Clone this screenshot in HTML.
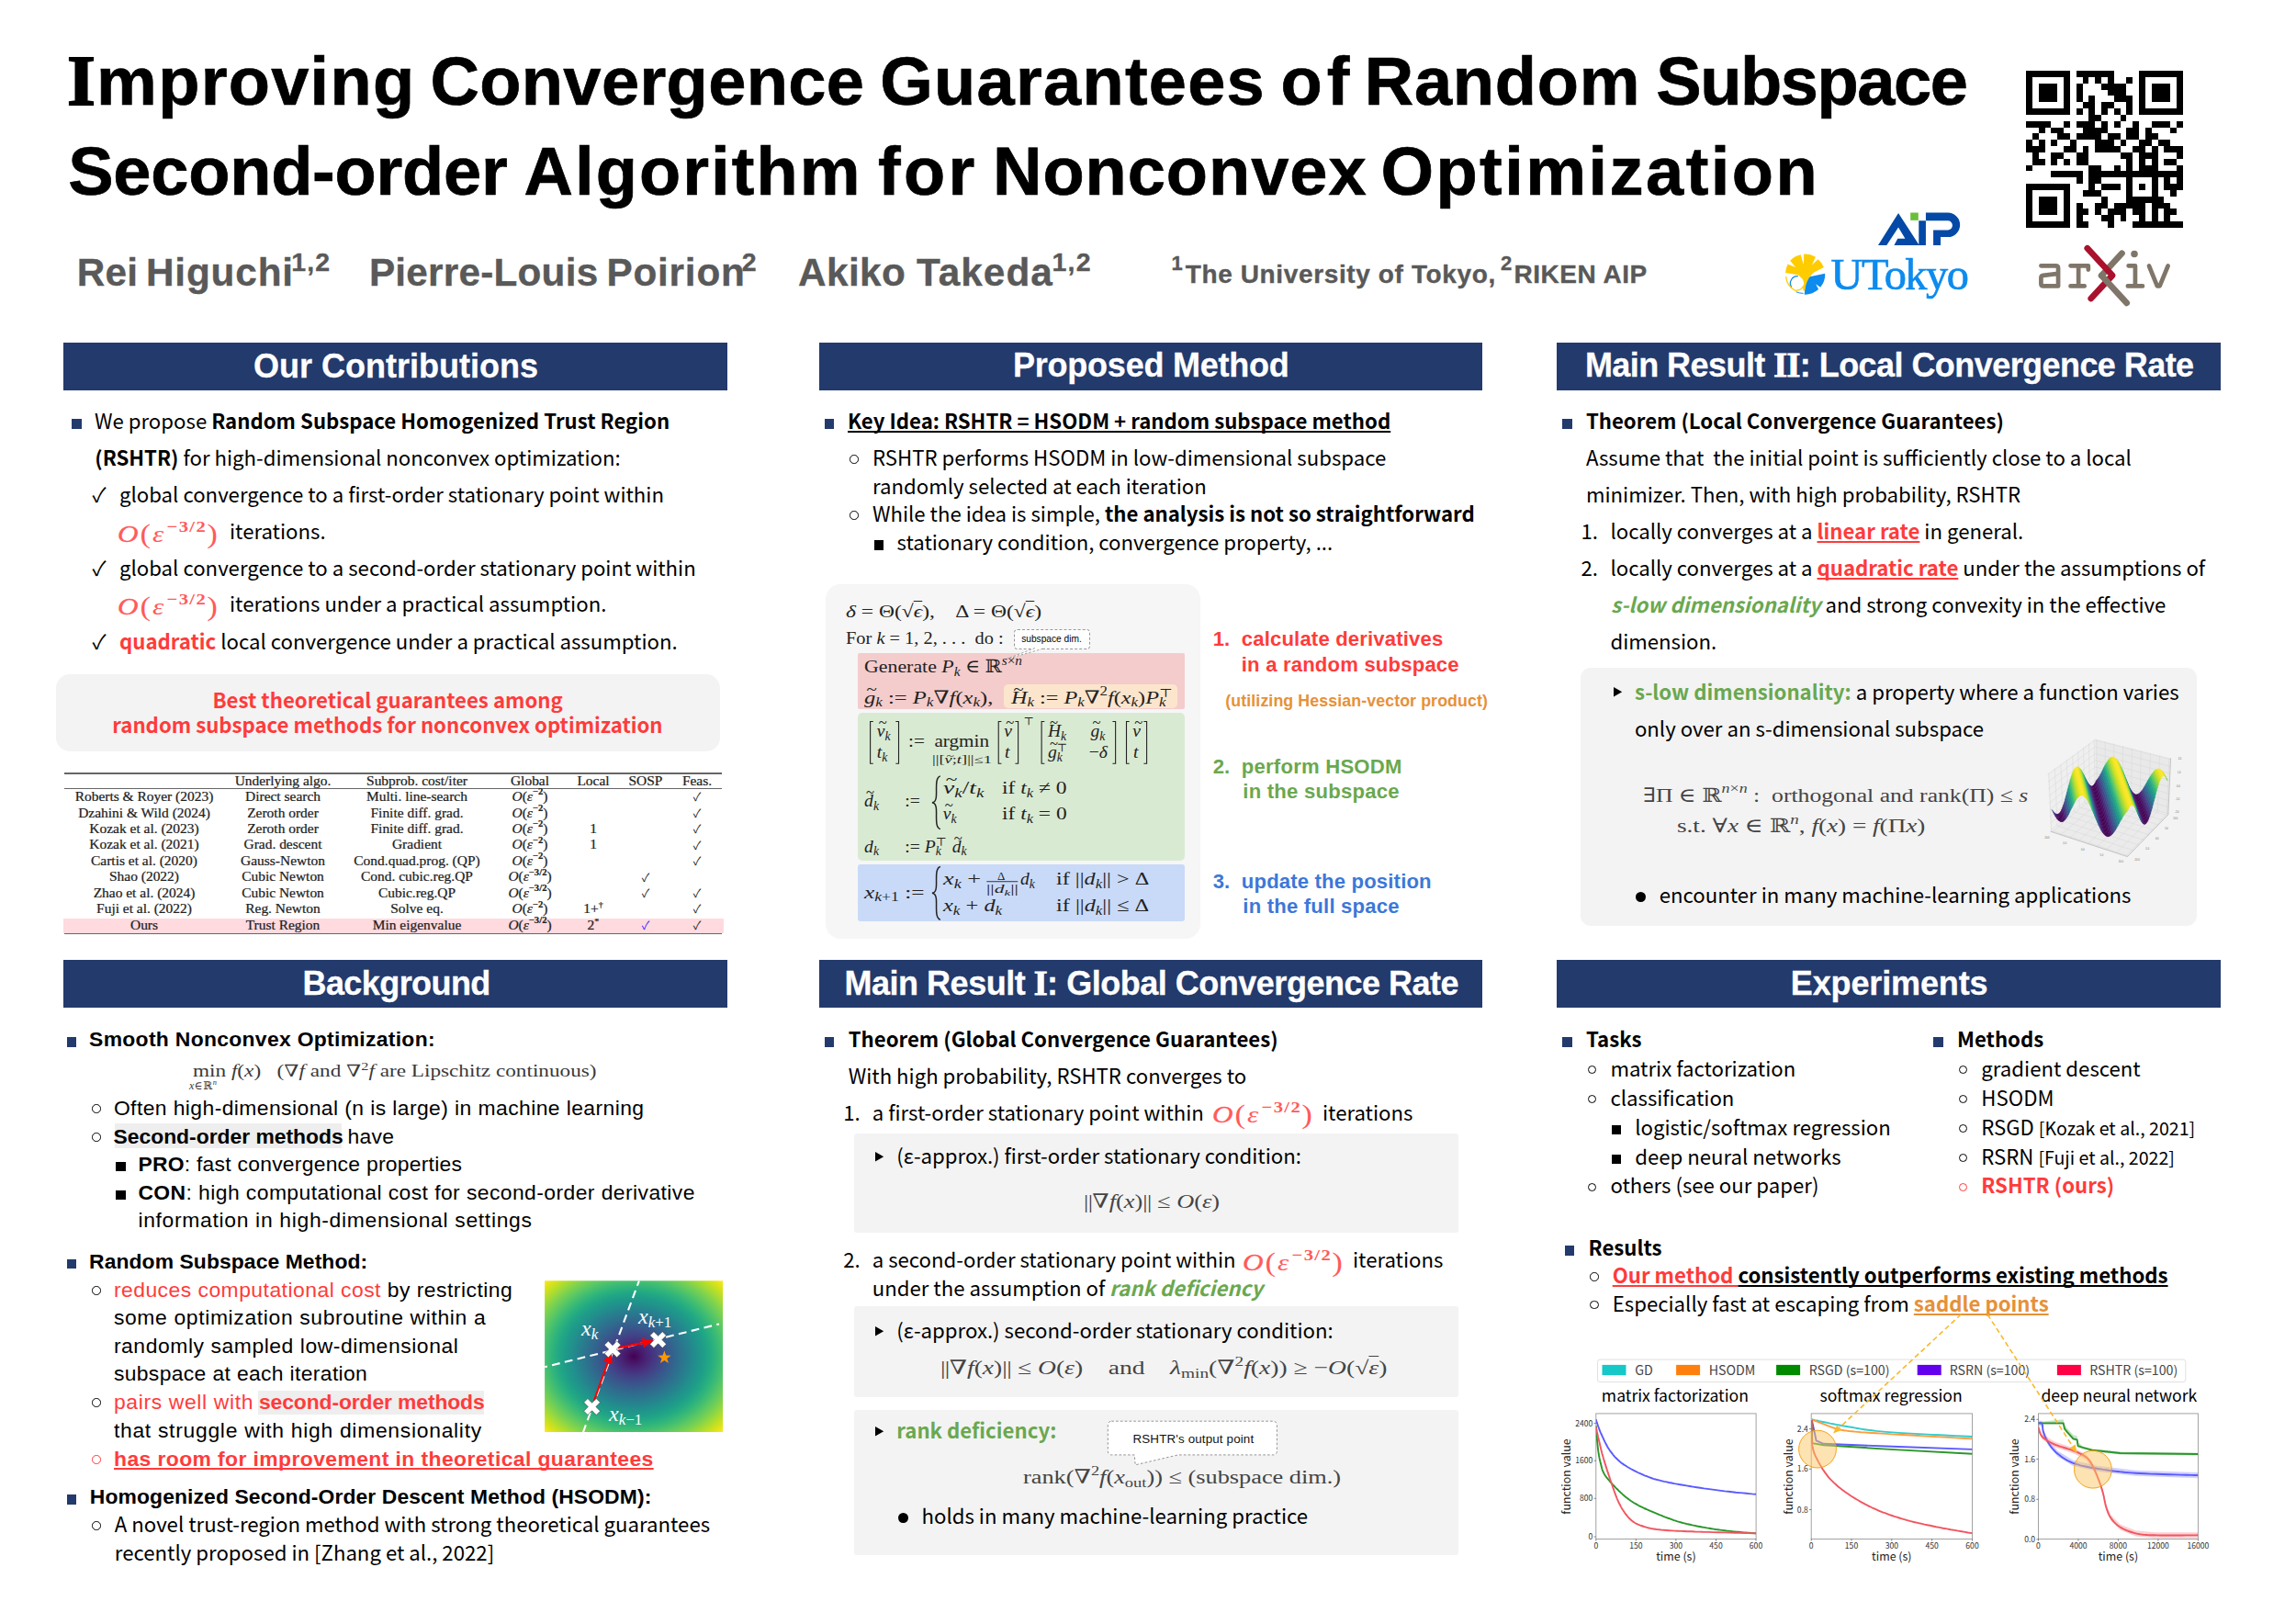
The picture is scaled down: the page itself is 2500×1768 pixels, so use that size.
<!DOCTYPE html>
<html lang="en">
<head>
<meta charset="utf-8">
<title>Improving Convergence Guarantees of Random Subspace Second-order Algorithm for Nonconvex Optimization</title>
<style>
html,body{margin:0;padding:0;background:#fff;}
body{width:2500px;height:1768px;position:relative;overflow:hidden;font-family:"Liberation Sans","Noto Sans CJK JP",sans-serif;color:#000;}
.a{position:absolute;white-space:pre;line-height:1;}
.ns{font-family:"Liberation Sans","Noto Sans CJK JP",sans-serif;}
.cj{font-family:"Noto Sans CJK JP","Liberation Sans",sans-serif;}
.se{font-family:"Liberation Serif","DejaVu Serif",serif;}
b,.b{font-weight:700;}
i,.i{font-style:italic;}
.title{font-weight:700;color:#000;-webkit-text-stroke:0.7px #000;}
.auth{font-weight:700;color:#595959;-webkit-text-stroke:0.35px #595959;}
.auth sup{font-size:66%;vertical-align:baseline;position:relative;top:-0.41em;line-height:0;}
.bar{position:absolute;height:52px;background:#233a6c;}
.bart{color:#fff;font-weight:700;-webkit-text-stroke:0.3px #fff;}
.red{color:#ff3b3b;}
.grn{color:#6aa84f;}
.org{color:#e69138;}
.sq{position:absolute;background:#233a6c;}
.bsq{position:absolute;background:#000;}
.ci{position:absolute;width:7.5px;height:7.5px;border:1.3px solid #000;border-radius:50%;box-sizing:content-box;}
.box{position:absolute;background:#f3f3f3;}
.m{font-family:"Liberation Serif","DejaVu Serif",serif;}
.m sup,.m sub{font-size:70%;line-height:0;}
.rn{font-family:'Liberation Serif',serif;font-size:106%;line-height:0;-webkit-text-stroke:0.025em currentColor;}
svg{position:absolute;overflow:visible;}
</style>
</head>
<body>
<div class="a ns title" style="left:73.3px;top:52.2px;font-size:74px;letter-spacing:1.272px;"><span class="rn">I</span>mproving</div>
<div class="a ns title" style="left:468.4px;top:52.2px;font-size:74px;letter-spacing:0.379px;">Convergence</div>
<div class="a ns title" style="left:958.3px;top:52.2px;font-size:74px;letter-spacing:1.251px;">Guarantees</div>
<div class="a ns title" style="left:1394.6px;top:52.2px;font-size:74px;letter-spacing:5.020px;">of</div>
<div class="a ns title" style="left:1485.7px;top:52.2px;font-size:74px;letter-spacing:0.783px;">Random</div>
<div class="a ns title" style="left:1803.3px;top:52.2px;font-size:74px;letter-spacing:-1.412px;">Subspace</div>
<div class="a ns title" style="left:74.2px;top:150.2px;font-size:74px;letter-spacing:-0.223px;">Second-order</div>
<div class="a ns title" style="left:570.5px;top:150.2px;font-size:74px;letter-spacing:2.077px;">Algorithm</div>
<div class="a ns title" style="left:955.9px;top:150.2px;font-size:74px;letter-spacing:3.415px;">for</div>
<div class="a ns title" style="left:1081.0px;top:150.2px;font-size:74px;letter-spacing:0.958px;">Nonconvex</div>
<div class="a ns title" style="left:1503.4px;top:150.2px;font-size:74px;letter-spacing:2.476px;">Optimization</div>
<div class="a ns auth" style="left:83.7px;top:276.1px;font-size:42.3px;letter-spacing:0.257px;">Rei</div>
<div class="a ns auth" style="left:158.9px;top:276.1px;font-size:42.3px;letter-spacing:0.858px;">Higuchi</div>
<div class="a ns auth" style="left:317.2px;top:271.0px;font-size:28.5px;letter-spacing:1.192px;">1,2</div>
<div class="a ns auth" style="left:401.9px;top:276.1px;font-size:42.3px;letter-spacing:0.224px;">Pierre-Louis</div>
<div class="a ns auth" style="left:660.5px;top:276.1px;font-size:42.3px;letter-spacing:0.773px;">Poirion</div>
<div class="a ns auth" style="left:807.8px;top:271.0px;font-size:28.5px;letter-spacing:3.241px;">2</div>
<div class="a ns auth" style="left:868.9px;top:276.1px;font-size:42.3px;letter-spacing:0.463px;">Akiko</div>
<div class="a ns auth" style="left:998.0px;top:276.1px;font-size:42.3px;letter-spacing:1.027px;">Takeda</div>
<div class="a ns auth" style="left:1145.5px;top:271.0px;font-size:28.5px;letter-spacing:1.192px;">1,2</div>
<div class="a ns auth" style="left:1275.6px;top:275.5px;font-size:22px;letter-spacing:0.950px;">1</div>
<div class="a ns auth" style="left:1290.7px;top:285.1px;font-size:28px;letter-spacing:0.629px;">The University of Tokyo,</div>
<div class="a ns auth" style="left:1634.1px;top:275.5px;font-size:22px;letter-spacing:3.950px;">2</div>
<div class="a ns auth" style="left:1648.5px;top:285.1px;font-size:28px;letter-spacing:0.528px;">RIKEN AIP</div>
<div class="bar" style="left:69px;top:372.8px;width:722.9px;"></div>
<div class="bar" style="left:69px;top:1045.4px;width:722.9px;"></div>
<div class="bar" style="left:891.9px;top:372.8px;width:722.2px;"></div>
<div class="bar" style="left:891.9px;top:1045.4px;width:722.2px;"></div>
<div class="bar" style="left:1695.1px;top:372.8px;width:722.7px;"></div>
<div class="bar" style="left:1695.1px;top:1045.4px;width:722.7px;"></div>
<svg style="left:2206.2px;top:77px" width="171" height="171" viewBox="0 0 25 25" shape-rendering="crispEdges"><rect width="25" height="25" fill="#fff"/><path d="M0 0h7v1h-7zM8 0h6v1h-6zM18 0h7v1h-7zM0 1h1v1h-1zM6 1h1v1h-1zM9 1h1v1h-1zM11 1h1v1h-1zM13 1h1v1h-1zM16 1h1v1h-1zM18 1h1v1h-1zM24 1h1v1h-1zM0 2h1v1h-1zM2 2h3v1h-3zM6 2h1v1h-1zM8 2h1v1h-1zM12 2h4v1h-4zM18 2h1v1h-1zM20 2h3v1h-3zM24 2h1v1h-1zM0 3h1v1h-1zM2 3h3v1h-3zM6 3h1v1h-1zM8 3h1v1h-1zM13 3h3v1h-3zM18 3h1v1h-1zM20 3h3v1h-3zM24 3h1v1h-1zM0 4h1v1h-1zM2 4h3v1h-3zM6 4h1v1h-1zM8 4h1v1h-1zM10 4h1v1h-1zM14 4h3v1h-3zM18 4h1v1h-1zM20 4h3v1h-3zM24 4h1v1h-1zM0 5h1v1h-1zM6 5h1v1h-1zM9 5h2v1h-2zM12 5h2v1h-2zM16 5h1v1h-1zM18 5h1v1h-1zM24 5h1v1h-1zM0 6h7v1h-7zM8 6h1v1h-1zM10 6h1v1h-1zM12 6h1v1h-1zM14 6h1v1h-1zM16 6h1v1h-1zM18 6h7v1h-7zM10 7h2v1h-2zM15 7h1v1h-1zM0 8h4v1h-4zM6 8h1v1h-1zM8 8h3v1h-3zM12 8h1v1h-1zM14 8h1v1h-1zM17 8h1v1h-1zM20 8h3v1h-3zM24 8h1v1h-1zM2 9h1v1h-1zM4 9h2v1h-2zM9 9h4v1h-4zM16 9h2v1h-2zM19 9h1v1h-1zM23 9h1v1h-1zM1 10h1v1h-1zM5 10h2v1h-2zM8 10h4v1h-4zM13 10h2v1h-2zM16 10h2v1h-2zM19 10h2v1h-2zM0 11h1v1h-1zM2 11h1v1h-1zM4 11h1v1h-1zM7 11h1v1h-1zM11 11h3v1h-3zM15 11h1v1h-1zM18 11h2v1h-2zM21 11h2v1h-2zM0 12h3v1h-3zM6 12h2v1h-2zM9 12h1v1h-1zM11 12h4v1h-4zM17 12h2v1h-2zM20 12h1v1h-1zM22 12h3v1h-3zM1 13h1v1h-1zM4 13h2v1h-2zM8 13h2v1h-2zM15 13h2v1h-2zM18 13h3v1h-3zM24 13h1v1h-1zM1 14h2v1h-2zM4 14h1v1h-1zM6 14h1v1h-1zM8 14h2v1h-2zM16 14h1v1h-1zM18 14h1v1h-1zM20 14h1v1h-1zM22 14h2v1h-2zM0 15h1v1h-1zM10 15h2v1h-2zM14 15h1v1h-1zM16 15h1v1h-1zM18 15h3v1h-3zM24 15h1v1h-1zM4 16h5v1h-5zM10 16h15v1h-15zM8 17h1v1h-1zM10 17h2v1h-2zM16 17h1v1h-1zM20 17h1v1h-1zM22 17h1v1h-1zM24 17h1v1h-1zM0 18h7v1h-7zM10 18h1v1h-1zM12 18h3v1h-3zM16 18h1v1h-1zM18 18h1v1h-1zM20 18h1v1h-1zM22 18h3v1h-3zM0 19h1v1h-1zM6 19h1v1h-1zM9 19h3v1h-3zM16 19h1v1h-1zM20 19h1v1h-1zM23 19h1v1h-1zM0 20h1v1h-1zM2 20h3v1h-3zM6 20h1v1h-1zM12 20h1v1h-1zM16 20h6v1h-6zM0 21h1v1h-1zM2 21h3v1h-3zM6 21h1v1h-1zM8 21h1v1h-1zM11 21h2v1h-2zM14 21h5v1h-5zM20 21h3v1h-3zM0 22h1v1h-1zM2 22h3v1h-3zM6 22h1v1h-1zM8 22h2v1h-2zM11 22h1v1h-1zM13 22h3v1h-3zM17 22h2v1h-2zM20 22h1v1h-1zM22 22h2v1h-2zM0 23h1v1h-1zM6 23h1v1h-1zM8 23h1v1h-1zM12 23h2v1h-2zM15 23h1v1h-1zM18 23h1v1h-1zM20 23h1v1h-1zM22 23h1v1h-1zM0 24h7v1h-7zM8 24h2v1h-2zM13 24h1v1h-1zM17 24h8v1h-8z" fill="#000"/></svg>
<svg style="left:0;top:0" width="2500" height="1768" viewBox="0 0 2500 1768"><g transform="translate(1935,225) scale(0.09582)"><path fill-rule="evenodd" fill="#0449a6" d="M1378 72 L1148 438 L1245 438 L1378 235 L1455 362 L1370 362 L1330 438 L1690 438 L1690 160 L1610 160 L1610 430 Z"/><rect x="1515" y="68" width="90" height="87" fill="#6abf3a"/><path fill="#0449a6" d="M1690 68 H1940 A138.5 138.5 0 0 1 1940 345 H1858 V438 H1775 V265 H1940 A52.5 52.5 0 0 0 1940 160 H1690 Z"/></g><g transform="translate(1935,225) scale(0.09582)"><path fill="#0d8bee" d="M345 800 L545 758 A232 232 0 0 1 492 915 L440 880 L470 940 A232 232 0 0 1 310 998 L322 880 Z"/><path fill="#ffcc00" d="M95 752 A232 232 0 0 1 122 652 L210 690 L148 612 A232 232 0 0 1 268 545 L300 660 L305 538 A232 232 0 0 1 438 572 L395 662 L465 598 A232 232 0 0 1 532 690 L420 745 Q350 800 325 900 Q318 950 300 962 L290 900 Q300 820 240 775 Z"/><circle cx="228" cy="868" r="76" fill="#fff"/><path fill="none" stroke="#0d8bee" stroke-width="13" d="M238 790 A80 80 0 0 0 165 915"/><path fill="none" stroke="#ffcc00" stroke-width="13" d="M100 795 Q110 900 200 950 Q270 960 300 900"/><path fill="none" stroke="#0d8bee" stroke-width="10" d="M215 968 Q260 985 298 985"/></g></svg>
<div class="a se" style="left:1993.5px;top:274.9px;font-size:48.3px;color:#0d8bee;-webkit-text-stroke:0.7px #0d8bee;letter-spacing:-1.435px;">UTokyo</div>
<svg style="left:0;top:0" width="2500" height="1768" viewBox="0 0 2500 1768"><g transform="translate(2205,255) scale(0.07839)" fill="none" stroke-linecap="round" stroke-linejoin="round"><g stroke="#7f7669" stroke-width="60"><path d="M222 438 H425 Q460 438 460 472 V720 H252 Q222 720 222 690 V606 Q222 578 252 573 L458 546"/><path d="M632 438 H878 V492 M742 438 V720 M632 720 H825"/><path d="M1437 438 H1530 V720 M1427 720 H1633"/><path d="M1722 440 L1835 718 H1870 L1985 440"/></g><circle cx="1518" cy="275" r="48" fill="#7f7669" stroke="none"/><path d="M1345 265 L1062 575" stroke="#7f7669" stroke-width="86"/><path d="M865 195 L1212 572 L915 892" stroke="#a9112c" stroke-width="86"/><path d="M1062 575 L1412 955" stroke="#7f7669" stroke-width="86"/></g></svg>
<div class="a ns bart" style="left:276.0px;top:380.5px;font-size:36px;">Our Contributions</div>
<div class="sq" style="left:78px;top:456.4px;width:10.5px;height:10.5px"></div>
<div class="a cj" style="left:103.0px;top:445.6px;font-size:22.2px;">We propose <b>Random Subspace Homogenized Trust Region</b></div>
<div class="a cj" style="left:103.3px;top:485.6px;font-size:22.2px;"><b>(RSHTR)</b> for high-dimensional nonconvex optimization:</div>
<div class="a cj" style="left:100.5px;top:525.8px;font-size:22px;">✓</div>
<div class="a cj" style="left:130.0px;top:525.6px;font-size:22.2px;">global convergence to a first-order stationary point within</div>
<div class="a se m" style="left:127.6px;top:565.5px;font-size:26px;color:#ff5a5a;letter-spacing:1.6px;"><span style="display:inline-block;transform-origin:0 80%;transform:scaleX(1.2)"><i style="-webkit-text-stroke:0.35px #ff5a5a">O</i><span style="font-size:112%;position:relative;top:0.04em">(</span><i>ε</i><span style="font-size:66%;position:relative;top:-0.62em;letter-spacing:1.2px;margin-left:1px"><b>−3/2</b></span><span style="font-size:112%;position:relative;top:0.04em">)</span></span></div>
<div class="a cj" style="left:250.0px;top:566.2px;font-size:22.2px;">iterations.</div>
<div class="a cj" style="left:100.5px;top:605.8px;font-size:22px;">✓</div>
<div class="a cj" style="left:130.0px;top:605.6px;font-size:22.2px;">global convergence to a second-order stationary point within</div>
<div class="a se m" style="left:127.6px;top:645.0px;font-size:26px;color:#ff5a5a;letter-spacing:1.6px;"><span style="display:inline-block;transform-origin:0 80%;transform:scaleX(1.2)"><i style="-webkit-text-stroke:0.35px #ff5a5a">O</i><span style="font-size:112%;position:relative;top:0.04em">(</span><i>ε</i><span style="font-size:66%;position:relative;top:-0.62em;letter-spacing:1.2px;margin-left:1px"><b>−3/2</b></span><span style="font-size:112%;position:relative;top:0.04em">)</span></span></div>
<div class="a cj" style="left:250.0px;top:645.2px;font-size:22.2px;">iterations under a practical assumption.</div>
<div class="a cj" style="left:100.5px;top:685.8px;font-size:22px;">✓</div>
<div class="a cj" style="left:130.0px;top:685.6px;font-size:22.2px;"><b class="red">quadratic</b> local convergence under a practical assumption.</div>
<div class="box" style="left:61px;top:733.5px;width:723px;height:84.5px;border-radius:15px;"></div>
<div class="a cj b red" style="left:231.5px;top:750.2px;font-size:22.2px;">Best theoretical guarantees among</div>
<div class="a cj b red" style="left:122.3px;top:776.8px;font-size:22.2px;">random subspace methods for nonconvex optimization</div>
<div class="a" style="left:68.6px;top:1000.1px;width:719.2px;height:16.2px;background:#ffdadf;"></div>
<div class="a" style="left:70.4px;top:841.1px;width:716px;height:1.7px;background:#666;"></div>
<div class="a" style="left:70.4px;top:857.9px;width:716px;height:1.2px;background:#666;"></div>
<div class="a" style="left:70.4px;top:1015.6px;width:716px;height:1.3px;background:#666;"></div>
<div class="a se" style="left:158.0px;top:843.7px;width:300px;text-align:center;font-size:13.8px;color:#222;transform:scaleX(1.12);-webkit-text-stroke:0.22px #222;">Underlying algo.</div>
<div class="a se" style="left:303.6px;top:843.7px;width:300px;text-align:center;font-size:13.8px;color:#222;transform:scaleX(1.12);-webkit-text-stroke:0.22px #222;">Subprob. cost/iter</div>
<div class="a se" style="left:427.2px;top:843.7px;width:300px;text-align:center;font-size:13.8px;color:#222;transform:scaleX(1.12);-webkit-text-stroke:0.22px #222;">Global</div>
<div class="a se" style="left:495.9px;top:843.7px;width:300px;text-align:center;font-size:13.8px;color:#222;transform:scaleX(1.12);-webkit-text-stroke:0.22px #222;">Local</div>
<div class="a se" style="left:553.0px;top:843.7px;width:300px;text-align:center;font-size:13.8px;color:#222;transform:scaleX(1.12);-webkit-text-stroke:0.22px #222;">SOSP</div>
<div class="a se" style="left:609.0px;top:843.7px;width:300px;text-align:center;font-size:13.8px;color:#222;transform:scaleX(1.12);-webkit-text-stroke:0.22px #222;">Feas.</div>
<div class="a se" style="left:7.4px;top:861.0px;width:300px;text-align:center;font-size:13.8px;color:#222;transform:scaleX(1.12);-webkit-text-stroke:0.22px #222;">Roberts &amp; Royer (2023)</div>
<div class="a se" style="left:158.0px;top:861.0px;width:300px;text-align:center;font-size:13.8px;color:#222;transform:scaleX(1.12);-webkit-text-stroke:0.22px #222;">Direct search</div>
<div class="a se" style="left:303.6px;top:861.0px;width:300px;text-align:center;font-size:13.8px;color:#222;transform:scaleX(1.12);-webkit-text-stroke:0.22px #222;">Multi. line-search</div>
<div class="a se" style="left:427.2px;top:861.0px;width:300px;text-align:center;font-size:13.8px;color:#222;transform:scaleX(1.12);-webkit-text-stroke:0.22px #222;"><i>O</i>(<i>ε</i><sup style="font-size:9.5px;line-height:0;position:relative;top:-1px"><b>−2</b></sup>)</div>
<div class="a cj" style="left:609.0px;top:861.4px;width:300px;text-align:center;font-size:12.5px;color:#222;">✓</div>
<div class="a se" style="left:7.4px;top:878.5px;width:300px;text-align:center;font-size:13.8px;color:#222;transform:scaleX(1.12);-webkit-text-stroke:0.22px #222;">Dzahini &amp; Wild (2024)</div>
<div class="a se" style="left:158.0px;top:878.5px;width:300px;text-align:center;font-size:13.8px;color:#222;transform:scaleX(1.12);-webkit-text-stroke:0.22px #222;">Zeroth order</div>
<div class="a se" style="left:303.6px;top:878.5px;width:300px;text-align:center;font-size:13.8px;color:#222;transform:scaleX(1.12);-webkit-text-stroke:0.22px #222;">Finite diff. grad.</div>
<div class="a se" style="left:427.2px;top:878.5px;width:300px;text-align:center;font-size:13.8px;color:#222;transform:scaleX(1.12);-webkit-text-stroke:0.22px #222;"><i>O</i>(<i>ε</i><sup style="font-size:9.5px;line-height:0;position:relative;top:-1px"><b>−2</b></sup>)</div>
<div class="a cj" style="left:609.0px;top:878.8px;width:300px;text-align:center;font-size:12.5px;color:#222;">✓</div>
<div class="a se" style="left:7.4px;top:895.9px;width:300px;text-align:center;font-size:13.8px;color:#222;transform:scaleX(1.12);-webkit-text-stroke:0.22px #222;">Kozak et al. (2023)</div>
<div class="a se" style="left:158.0px;top:895.9px;width:300px;text-align:center;font-size:13.8px;color:#222;transform:scaleX(1.12);-webkit-text-stroke:0.22px #222;">Zeroth order</div>
<div class="a se" style="left:303.6px;top:895.9px;width:300px;text-align:center;font-size:13.8px;color:#222;transform:scaleX(1.12);-webkit-text-stroke:0.22px #222;">Finite diff. grad.</div>
<div class="a se" style="left:427.2px;top:895.9px;width:300px;text-align:center;font-size:13.8px;color:#222;transform:scaleX(1.12);-webkit-text-stroke:0.22px #222;"><i>O</i>(<i>ε</i><sup style="font-size:9.5px;line-height:0;position:relative;top:-1px"><b>−2</b></sup>)</div>
<div class="a se" style="left:495.9px;top:895.9px;width:300px;text-align:center;font-size:13.8px;color:#222;transform:scaleX(1.12);-webkit-text-stroke:0.22px #222;">1</div>
<div class="a cj" style="left:609.0px;top:896.3px;width:300px;text-align:center;font-size:12.5px;color:#222;">✓</div>
<div class="a se" style="left:7.4px;top:913.3px;width:300px;text-align:center;font-size:13.8px;color:#222;transform:scaleX(1.12);-webkit-text-stroke:0.22px #222;">Kozak et al. (2021)</div>
<div class="a se" style="left:158.0px;top:913.3px;width:300px;text-align:center;font-size:13.8px;color:#222;transform:scaleX(1.12);-webkit-text-stroke:0.22px #222;">Grad. descent</div>
<div class="a se" style="left:303.6px;top:913.3px;width:300px;text-align:center;font-size:13.8px;color:#222;transform:scaleX(1.12);-webkit-text-stroke:0.22px #222;">Gradient</div>
<div class="a se" style="left:427.2px;top:913.3px;width:300px;text-align:center;font-size:13.8px;color:#222;transform:scaleX(1.12);-webkit-text-stroke:0.22px #222;"><i>O</i>(<i>ε</i><sup style="font-size:9.5px;line-height:0;position:relative;top:-1px"><b>−2</b></sup>)</div>
<div class="a se" style="left:495.9px;top:913.3px;width:300px;text-align:center;font-size:13.8px;color:#222;transform:scaleX(1.12);-webkit-text-stroke:0.22px #222;">1</div>
<div class="a cj" style="left:609.0px;top:913.7px;width:300px;text-align:center;font-size:12.5px;color:#222;">✓</div>
<div class="a se" style="left:7.4px;top:930.8px;width:300px;text-align:center;font-size:13.8px;color:#222;transform:scaleX(1.12);-webkit-text-stroke:0.22px #222;">Cartis et al. (2020)</div>
<div class="a se" style="left:158.0px;top:930.8px;width:300px;text-align:center;font-size:13.8px;color:#222;transform:scaleX(1.12);-webkit-text-stroke:0.22px #222;">Gauss-Newton</div>
<div class="a se" style="left:303.6px;top:930.8px;width:300px;text-align:center;font-size:13.8px;color:#222;transform:scaleX(1.12);-webkit-text-stroke:0.22px #222;">Cond.quad.prog. (QP)</div>
<div class="a se" style="left:427.2px;top:930.8px;width:300px;text-align:center;font-size:13.8px;color:#222;transform:scaleX(1.12);-webkit-text-stroke:0.22px #222;"><i>O</i>(<i>ε</i><sup style="font-size:9.5px;line-height:0;position:relative;top:-1px"><b>−2</b></sup>)</div>
<div class="a cj" style="left:609.0px;top:931.1px;width:300px;text-align:center;font-size:12.5px;color:#222;">✓</div>
<div class="a se" style="left:7.4px;top:948.2px;width:300px;text-align:center;font-size:13.8px;color:#222;transform:scaleX(1.12);-webkit-text-stroke:0.22px #222;">Shao (2022)</div>
<div class="a se" style="left:158.0px;top:948.2px;width:300px;text-align:center;font-size:13.8px;color:#222;transform:scaleX(1.12);-webkit-text-stroke:0.22px #222;">Cubic Newton</div>
<div class="a se" style="left:303.6px;top:948.2px;width:300px;text-align:center;font-size:13.8px;color:#222;transform:scaleX(1.12);-webkit-text-stroke:0.22px #222;">Cond. cubic.reg.QP</div>
<div class="a se" style="left:427.2px;top:948.2px;width:300px;text-align:center;font-size:13.8px;color:#222;transform:scaleX(1.12);-webkit-text-stroke:0.22px #222;"><i>O</i>(<i>ε</i><sup style="font-size:9.5px;line-height:0;position:relative;top:-1px"><b>−3/2</b></sup>)</div>
<div class="a cj" style="left:553.0px;top:948.5px;width:300px;text-align:center;font-size:12.5px;color:#222;">✓</div>
<div class="a se" style="left:7.4px;top:965.6px;width:300px;text-align:center;font-size:13.8px;color:#222;transform:scaleX(1.12);-webkit-text-stroke:0.22px #222;">Zhao et al. (2024)</div>
<div class="a se" style="left:158.0px;top:965.6px;width:300px;text-align:center;font-size:13.8px;color:#222;transform:scaleX(1.12);-webkit-text-stroke:0.22px #222;">Cubic Newton</div>
<div class="a se" style="left:303.6px;top:965.6px;width:300px;text-align:center;font-size:13.8px;color:#222;transform:scaleX(1.12);-webkit-text-stroke:0.22px #222;">Cubic.reg.QP</div>
<div class="a se" style="left:427.2px;top:965.6px;width:300px;text-align:center;font-size:13.8px;color:#222;transform:scaleX(1.12);-webkit-text-stroke:0.22px #222;"><i>O</i>(<i>ε</i><sup style="font-size:9.5px;line-height:0;position:relative;top:-1px"><b>−3/2</b></sup>)</div>
<div class="a cj" style="left:553.0px;top:966.0px;width:300px;text-align:center;font-size:12.5px;color:#222;">✓</div>
<div class="a cj" style="left:609.0px;top:966.0px;width:300px;text-align:center;font-size:12.5px;color:#222;">✓</div>
<div class="a se" style="left:7.4px;top:983.1px;width:300px;text-align:center;font-size:13.8px;color:#222;transform:scaleX(1.12);-webkit-text-stroke:0.22px #222;">Fuji et al. (2022)</div>
<div class="a se" style="left:158.0px;top:983.1px;width:300px;text-align:center;font-size:13.8px;color:#222;transform:scaleX(1.12);-webkit-text-stroke:0.22px #222;">Reg. Newton</div>
<div class="a se" style="left:303.6px;top:983.1px;width:300px;text-align:center;font-size:13.8px;color:#222;transform:scaleX(1.12);-webkit-text-stroke:0.22px #222;">Solve eq.</div>
<div class="a se" style="left:427.2px;top:983.1px;width:300px;text-align:center;font-size:13.8px;color:#222;transform:scaleX(1.12);-webkit-text-stroke:0.22px #222;"><i>O</i>(<i>ε</i><sup style="font-size:9.5px;line-height:0;position:relative;top:-1px"><b>−2</b></sup>)</div>
<div class="a se" style="left:495.9px;top:983.1px;width:300px;text-align:center;font-size:13.8px;color:#222;transform:scaleX(1.12);-webkit-text-stroke:0.22px #222;">1+<sup style="font-size:9px;line-height:0">†</sup></div>
<div class="a cj" style="left:609.0px;top:983.4px;width:300px;text-align:center;font-size:12.5px;color:#222;">✓</div>
<div class="a se" style="left:7.4px;top:1000.5px;width:300px;text-align:center;font-size:13.8px;color:#222;transform:scaleX(1.12);-webkit-text-stroke:0.22px #222;">Ours</div>
<div class="a se" style="left:158.0px;top:1000.5px;width:300px;text-align:center;font-size:13.8px;color:#222;transform:scaleX(1.12);-webkit-text-stroke:0.22px #222;">Trust Region</div>
<div class="a se" style="left:303.6px;top:1000.5px;width:300px;text-align:center;font-size:13.8px;color:#222;transform:scaleX(1.12);-webkit-text-stroke:0.22px #222;">Min eigenvalue</div>
<div class="a se" style="left:427.2px;top:1000.5px;width:300px;text-align:center;font-size:13.8px;color:#222;transform:scaleX(1.12);-webkit-text-stroke:0.22px #222;"><i>O</i>(<i>ε</i><sup style="font-size:9.5px;line-height:0;position:relative;top:-1px"><b>−3/2</b></sup>)</div>
<div class="a se" style="left:495.9px;top:1000.5px;width:300px;text-align:center;font-size:13.8px;color:#222;transform:scaleX(1.12);-webkit-text-stroke:0.22px #222;">2<sup style="font-size:9px;line-height:0">*</sup></div>
<div class="a cj" style="left:553.0px;top:1000.8px;width:300px;text-align:center;font-size:12.5px;color:#222;"><span style="color:#3a1fff">✓</span></div>
<div class="a cj" style="left:609.0px;top:1000.8px;width:300px;text-align:center;font-size:12.5px;color:#222;">✓</div>
<div class="a ns bart" style="left:329.5px;top:1053.0px;font-size:36px;letter-spacing:-0.583px;">Background</div>
<div class="sq" style="left:72.8px;top:1129px;width:10.5px;height:10.5px"></div>
<div class="a ns b" style="left:97.1px;top:1119.8px;font-size:22.9px;letter-spacing:0.309px;">Smooth Nonconvex Optimization:</div>
<div class="a se m" style="left:209.5px;top:1157.3px;font-size:18.2px;color:#3a3a3a;transform-origin:0 0;transform:scaleX(1.2759);">min <i>f</i>(<i>x</i>)   (∇<i>f</i> and ∇<sup>2</sup><i>f</i> are Lipschitz continuous)</div>
<div class="a se m" style="left:206.0px;top:1175.5px;font-size:12px;color:#3a3a3a;letter-spacing:0.5px;"><i>x</i>∈ℝ<sup><i>n</i></sup></div>
<div class="ci" style="left:100px;top:1202.4px;"></div>
<div class="a ns" style="left:123.9px;top:1194.9px;font-size:22.9px;letter-spacing:0.415px;">Often high-dimensional (n is large) in machine learning</div>
<div class="ci" style="left:100px;top:1233px;"></div>
<div class="a" style="left:124.7px;top:1223.4px;width:247px;height:26.6px;background:#eee;"></div>
<div class="a ns b" style="left:123.5px;top:1225.5px;font-size:22.9px;letter-spacing:-0.018px;">Second-order methods</div>
<div class="a ns" style="left:378.5px;top:1225.5px;font-size:22.9px;letter-spacing:0.240px;">have</div>
<div class="bsq" style="left:126.4px;top:1264.9px;width:10.5px;height:10.5px"></div>
<div class="a ns" style="left:150.4px;top:1256.0px;font-size:22.9px;letter-spacing:0.250px;"><b>PRO</b>: fast convergence properties</div>
<div class="bsq" style="left:126.4px;top:1295.5px;width:10.5px;height:10.5px"></div>
<div class="a ns" style="left:150.4px;top:1286.6px;font-size:22.9px;letter-spacing:0.424px;"><b>CON</b>: high computational cost for second-order derivative</div>
<div class="a ns" style="left:150.4px;top:1317.2px;font-size:22.9px;letter-spacing:0.678px;">information in high-dimensional settings</div>
<div class="sq" style="left:72.8px;top:1370.8px;width:10.5px;height:10.5px"></div>
<div class="a ns b" style="left:97.1px;top:1361.6px;font-size:22.9px;letter-spacing:0.073px;">Random Subspace Method:</div>
<div class="ci" style="left:100px;top:1400px;"></div>
<div class="a ns" style="left:123.9px;top:1392.6px;font-size:22.9px;letter-spacing:0.476px;"><span class="red">reduces computational cost</span> by restricting</div>
<div class="a ns" style="left:123.9px;top:1423.2px;font-size:22.9px;letter-spacing:0.640px;">some optimization subroutine within a</div>
<div class="a ns" style="left:123.9px;top:1453.7px;font-size:22.9px;letter-spacing:0.562px;">randomly sampled low-dimensional</div>
<div class="a ns" style="left:123.9px;top:1484.3px;font-size:22.9px;letter-spacing:0.349px;">subspace at each iteration</div>
<div class="ci" style="left:100px;top:1522.4px;"></div>
<div class="a" style="left:281px;top:1513.5px;width:245.5px;height:26px;background:#eee;"></div>
<div class="a ns" style="left:123.9px;top:1514.9px;font-size:22.9px;letter-spacing:0.654px;"><span class="red">pairs well with</span></div>
<div class="a ns b red" style="left:282.0px;top:1514.9px;font-size:22.9px;letter-spacing:-0.122px;">second-order methods</div>
<div class="a ns" style="left:123.9px;top:1545.5px;font-size:22.9px;letter-spacing:0.708px;">that struggle with high dimensionality</div>
<div class="ci" style="left:100px;top:1584.2px;border-color:#ff3b3b;"></div>
<div class="a ns b red" style="left:124.0px;top:1576.7px;font-size:22.9px;text-decoration:underline;text-decoration-thickness:1.8px;text-underline-offset:1.5px;text-decoration-skip-ink:none;letter-spacing:0.407px;">has room for improvement in theoretical guarantees</div>
<div class="sq" style="left:72.8px;top:1627.4px;width:10.5px;height:10.5px"></div>
<div class="a ns b" style="left:97.8px;top:1618.2px;font-size:22.9px;letter-spacing:0.103px;">Homogenized Second-Order Descent Method (HSODM):</div>
<div class="ci" style="left:100px;top:1656.3px;"></div>
<div class="a cj" style="left:124.8px;top:1647.3px;font-size:22.2px;">A novel trust-region method with strong theoretical guarantees</div>
<div class="a cj" style="left:124.8px;top:1677.9px;font-size:22.2px;">recently proposed in [Zhang et al., 2022]</div>
<svg style="left:0;top:0" width="2500" height="1768" viewBox="0 0 2500 1768">
<defs><radialGradient id="vg" cx="0.5" cy="0.5" r="0.7071" gradientUnits="objectBoundingBox"><stop offset="0.00" stop-color="#440154"/><stop offset="0.05" stop-color="#471365"/><stop offset="0.10" stop-color="#482475"/><stop offset="0.15" stop-color="#463480"/><stop offset="0.20" stop-color="#414487"/><stop offset="0.25" stop-color="#3b528b"/><stop offset="0.30" stop-color="#355f8d"/><stop offset="0.35" stop-color="#2f6c8e"/><stop offset="0.40" stop-color="#2a788e"/><stop offset="0.45" stop-color="#25848e"/><stop offset="0.50" stop-color="#21918c"/><stop offset="0.55" stop-color="#1e9c89"/><stop offset="0.60" stop-color="#22a884"/><stop offset="0.65" stop-color="#2fb47c"/><stop offset="0.70" stop-color="#44bf70"/><stop offset="0.75" stop-color="#5ec962"/><stop offset="0.80" stop-color="#7ad151"/><stop offset="0.85" stop-color="#9bd93c"/><stop offset="0.90" stop-color="#bddf26"/><stop offset="0.95" stop-color="#dfe318"/><stop offset="1.00" stop-color="#fde725"/></radialGradient>
<clipPath id="vc"><rect x="593.1" y="1394.3" width="194" height="164.7"/></clipPath></defs>
<rect x="593.1" y="1394.3" width="194" height="164.7" fill="url(#vg)"/>
<g clip-path="url(#vc)">
<line x1="695.9" y1="1394.3" x2="635" y2="1559" stroke="#fff" stroke-width="2.1" stroke-dasharray="8.8 5.4" stroke-dashoffset="3"/>
<line x1="593.1" y1="1488.2" x2="783" y2="1441.4" stroke="#fff" stroke-width="2.1" stroke-dasharray="8.8 5.4" stroke-dashoffset="6"/>
<line x1="646.6" y1="1525.5" x2="662.6" y2="1481.1" stroke="#ff0000" stroke-width="2.2"/><polygon points="666.0,1471.7 666.6,1484.7 657.2,1481.3" fill="#ff0000"/>
<line x1="673.0" y1="1467.4" x2="701.9" y2="1461.6" stroke="#ff0000" stroke-width="2.2"/><polygon points="711.7,1459.6 700.9,1466.9 698.9,1457.1" fill="#ff0000"/>
<polygon transform="translate(667.0,1468.9) rotate(45)" points="-9.6,-3.0 -3.0,-3.0 -3.0,-9.6 3.0,-9.6 3.0,-3.0 9.6,-3.0 9.6,3.0 3.0,3.0 3.0,9.6 -3.0,9.6 -3.0,3.0 -9.6,3.0" fill="#fff" stroke="#333" stroke-width="0.5"/><polygon transform="translate(716.6,1458.6) rotate(45)" points="-9.6,-3.0 -3.0,-3.0 -3.0,-9.6 3.0,-9.6 3.0,-3.0 9.6,-3.0 9.6,3.0 3.0,3.0 3.0,9.6 -3.0,9.6 -3.0,3.0 -9.6,3.0" fill="#fff" stroke="#333" stroke-width="0.5"/><polygon transform="translate(644.6,1531.5) rotate(45)" points="-9.6,-3.0 -3.0,-3.0 -3.0,-9.6 3.0,-9.6 3.0,-3.0 9.6,-3.0 9.6,3.0 3.0,3.0 3.0,9.6 -3.0,9.6 -3.0,3.0 -9.6,3.0" fill="#fff" stroke="#333" stroke-width="0.5"/>
<polygon points="723.4,1470.4 725.2,1475.6 730.6,1475.7 726.3,1478.9 727.9,1484.1 723.4,1481.0 718.9,1484.1 720.5,1478.9 716.2,1475.7 721.6,1475.6" fill="#ff9800"/>
<g fill="#fff" font-family="'Liberation Serif','DejaVu Serif',serif" font-style="italic" font-size="24">
<text x="633" y="1453.7">x<tspan font-size="17" dy="4">k</tspan></text>
<text x="695" y="1441.4">x<tspan font-size="17" dy="4">k</tspan><tspan font-size="17" font-style="normal">+1</tspan></text>
<text x="663" y="1546.8">x<tspan font-size="17" dy="4">k</tspan><tspan font-size="17" font-style="normal">−1</tspan></text>
</g></g></svg>
<div class="a ns bart" style="left:1103.0px;top:379.8px;font-size:36px;letter-spacing:-0.227px;">Proposed Method</div>
<div class="sq" style="left:897.9px;top:456.2px;width:10.5px;height:10.5px"></div>
<div class="a cj b" style="left:923.0px;top:445.5px;font-size:22.2px;text-decoration:underline;text-decoration-thickness:1.9px;text-underline-offset:1.5px;text-decoration-skip-ink:none;">Key Idea: RSHTR = HSODM + random subspace method</div>
<div class="ci" style="left:925px;top:495.2px;"></div>
<div class="a cj" style="left:950.0px;top:486.0px;font-size:22.2px;">RSHTR performs HSODM in low-dimensional subspace</div>
<div class="a cj" style="left:950.0px;top:516.5px;font-size:22.2px;">randomly selected at each iteration</div>
<div class="ci" style="left:925px;top:556.4px;"></div>
<div class="a cj" style="left:950.0px;top:547.1px;font-size:22.2px;">While the idea is simple, <b>the analysis is not so straightforward</b></div>
<div class="bsq" style="left:951.5px;top:588.3px;width:10.5px;height:10.5px"></div>
<div class="a cj" style="left:976.5px;top:577.7px;font-size:22.2px;">stationary condition, convergence property, ...</div>
<div class="box" style="left:899.4px;top:636px;width:407.6px;height:386px;border-radius:16px;background:#f6f6f6;"></div>
<div class="a" style="left:934.4px;top:711px;width:355.6px;height:61px;background:#f4cccc;border-radius:2px;"></div>
<div class="a" style="left:1093px;top:744.7px;width:188.5px;height:26.5px;background:#fce5cd;border-radius:5px;"></div>
<div class="a" style="left:934.4px;top:776.3px;width:355.6px;height:160.7px;background:#d9ead3;border-radius:5px;"></div>
<div class="a" style="left:934.4px;top:941px;width:355.6px;height:62px;background:#c9daf8;border-radius:3px;"></div>
<div class="a se m" style="left:921.0px;top:655.8px;font-size:19.6px;color:#222;transform-origin:0 0;transform:scaleX(1.2008);"><i>δ</i> = Θ(√<span style="text-decoration:overline;text-decoration-thickness:1px"><i>ϵ</i></span>),    Δ = Θ(√<span style="text-decoration:overline;text-decoration-thickness:1px"><i>ϵ</i></span>)</div>
<div class="a se m" style="left:921.0px;top:684.7px;font-size:19.6px;color:#222;transform-origin:0 0;transform:scaleX(1.0394);">For <i>k</i> = 1, 2, . . .  do :</div>
<div class="a se m" style="left:941.0px;top:716.3px;font-size:19.6px;color:#222;transform-origin:0 0;transform:scaleX(1.1153);">Generate <i>P</i><sub style="font-size:70%;vertical-align:baseline;position:relative;top:0.28em;line-height:0"><i>k</i></sub> ∈ ℝ<sup style="font-size:70%;vertical-align:baseline;position:relative;top:-0.62em;line-height:0"><i>s</i>×<i>n</i></sup></div>
<div class="a se m" style="left:941.0px;top:749.6px;font-size:19.6px;color:#222;transform-origin:0 0;transform:scaleX(1.2518);"><span style="position:relative;display:inline-block"><i>g</i><span style="position:absolute;left:0.12em;top:-0.42em;font-style:normal;font-size:85%">~</span></span><sub style="font-size:70%;vertical-align:baseline;position:relative;top:0.28em;line-height:0"><i>k</i></sub> := <i>P</i><sub style="font-size:70%;vertical-align:baseline;position:relative;top:0.28em;line-height:0"><i>k</i></sub>∇<i>f</i>(<i>x</i><sub style="font-size:70%;vertical-align:baseline;position:relative;top:0.28em;line-height:0"><i>k</i></sub>),</div>
<div class="a se m" style="left:1100.8px;top:749.6px;font-size:19.6px;color:#222;transform-origin:0 0;transform:scaleX(1.2335);"><span style="position:relative;display:inline-block"><i>H</i><span style="position:absolute;left:0.12em;top:-0.42em;font-style:normal;font-size:85%">~</span></span><sub style="font-size:70%;vertical-align:baseline;position:relative;top:0.28em;line-height:0"><i>k</i></sub> := <i>P</i><sub style="font-size:70%;vertical-align:baseline;position:relative;top:0.28em;line-height:0"><i>k</i></sub>∇<sup style="font-size:70%;vertical-align:baseline;position:relative;top:-0.62em;line-height:0">2</sup><i>f</i>(<i>x</i><sub style="font-size:70%;vertical-align:baseline;position:relative;top:0.28em;line-height:0"><i>k</i></sub>)<i>P</i><sub style="font-size:70%;vertical-align:baseline;position:relative;top:0.28em;line-height:0"><i>k</i></sub><span style="position:relative;left:-0.45em;top:-0.55em;font-size:65%">⊤</span></div>
<div class="a ns" style="left:1103.5px;top:684.5px;width:81px;height:20px;border:0.8px dashed #999;border-radius:4px;background:#fff;font-size:10.2px;line-height:20px;text-align:center;color:#000;">subspace dim.</div>
<svg style="left:0;top:0" width="2500" height="1768"><path d="M1127 705.5 L1096 717.5 L1138 705.5" fill="#fff" stroke="#999" stroke-width="0.9" stroke-dasharray="2.5 2"/></svg>
<svg style="left:0;top:0" width="2500" height="1768"><path d="M950.8042940616932 785.4436744122843 H947.6042940616932 V831.3058839516239 H950.8042940616932" fill="none" stroke="#222" stroke-width="1.1"/><path d="M975.3188204919146 785.4436744122843 H978.5188204919147 V831.3058839516239 H975.3188204919146" fill="none" stroke="#222" stroke-width="1.1"/><path d="M1090.4292431036827 785.4436744122843 H1087.2292431036826 V831.3058839516239 H1090.4292431036827" fill="none" stroke="#222" stroke-width="1.1"/><path d="M1105.4316075553743 785.4436744122843 H1108.6316075553743 V831.3058839516239 H1105.4316075553743" fill="none" stroke="#222" stroke-width="1.1"/><path d="M1137.3106128550075 785.4436744122843 H1134.1106128550075 V831.3058839516239 H1137.3106128550075" fill="none" stroke="#222" stroke-width="1.1"/><path d="M1211.424269601848 785.4436744122843 H1214.624269601848 V831.3058839516239 H1211.424269601848" fill="none" stroke="#222" stroke-width="1.1"/><path d="M1229.7144720750102 785.4436744122843 H1226.5144720750102 V831.3058839516239 H1229.7144720750102" fill="none" stroke="#222" stroke-width="1.1"/><path d="M1245.3962766680254 785.4436744122843 H1248.5962766680254 V831.3058839516239 H1245.3962766680254" fill="none" stroke="#222" stroke-width="1.1"/><path d="M1023.8688680527246 844.8946867780949 C1017.5688680527246 846.8946867780949 1020.2688680527245 859.7708927843457 1019.3688680527246 867.7708927843457 C1018.9188680527245 871.7708927843457 1017.1188680527246 873.7708927843457 1014.8688680527246 873.7708927843457 C1017.1188680527246 873.7708927843457 1018.9188680527245 875.7708927843457 1019.3688680527246 879.7708927843457 C1020.2688680527245 887.7708927843457 1017.5688680527246 900.6470987905966 1023.8688680527246 902.6470987905966" fill="none" stroke="#222" stroke-width="1.5"/><path d="M1023.8688680527246 943.4135072700095 C1017.5688680527246 945.4135072700095 1020.2688680527245 958.2897132762603 1019.3688680527246 966.2897132762603 C1018.9188680527245 970.2897132762603 1017.1188680527246 972.2897132762603 1014.8688680527246 972.2897132762603 C1017.1188680527246 972.2897132762603 1018.9188680527245 974.2897132762603 1019.3688680527246 978.2897132762603 C1020.2688680527245 986.2897132762603 1017.5688680527246 999.1659192825111 1023.8688680527246 1001.1659192825111" fill="none" stroke="#222" stroke-width="1.5"/><line x1="1074.3198804185351" y1="959.7200706617747" x2="1108.2918874847126" y2="959.7200706617747" stroke="#222" stroke-width="0.9"/></svg>
<div class="a se m" style="left:954.7px;top:785.9px;font-size:19.6px;color:#222;"><span style="position:relative;display:inline-block"><i>v</i><span style="position:absolute;left:0.12em;top:-0.42em;font-style:normal;font-size:85%">~</span></span><sub style="font-size:70%;vertical-align:baseline;position:relative;top:0.28em;line-height:0"><i>k</i></sub></div>
<div class="a se m" style="left:954.7px;top:809.0px;font-size:19.6px;color:#222;"><i>t</i><sub style="font-size:70%;vertical-align:baseline;position:relative;top:0.28em;line-height:0"><i>k</i></sub></div>
<div class="a se m" style="left:989.4px;top:796.8px;font-size:19.6px;color:#222;transform-origin:0 0;transform:scaleX(1.0802);">:=  argmin</div>
<div class="a se m" style="left:1014.9px;top:821.6px;font-size:11.5px;color:#222;transform-origin:0 0;transform:scaleX(1.6035);">||[<span style="position:relative;display:inline-block"><i>v</i><span style="position:absolute;left:0.12em;top:-0.42em;font-style:normal;font-size:85%">~</span></span>;<i>t</i>]||≤1</div>
<div class="a se m" style="left:1093.3px;top:785.9px;font-size:19.6px;color:#222;"><span style="position:relative;display:inline-block"><i>v</i><span style="position:absolute;left:0.12em;top:-0.42em;font-style:normal;font-size:85%">~</span></span></div>
<div class="a se m" style="left:1094.0px;top:809.0px;font-size:19.6px;color:#222;"><i>t</i></div>
<div class="a se m" style="left:1114.4px;top:779.4px;font-size:12px;color:#222;">⊤</div>
<div class="a se m" style="left:1140.9px;top:785.9px;font-size:19.6px;color:#222;"><span style="position:relative;display:inline-block"><i>H</i><span style="position:absolute;left:0.12em;top:-0.42em;font-style:normal;font-size:85%">~</span></span><sub style="font-size:70%;vertical-align:baseline;position:relative;top:0.28em;line-height:0"><i>k</i></sub></div>
<div class="a se m" style="left:1187.4px;top:785.9px;font-size:19.6px;color:#222;"><span style="position:relative;display:inline-block"><i>g</i><span style="position:absolute;left:0.12em;top:-0.42em;font-style:normal;font-size:85%">~</span></span><sub style="font-size:70%;vertical-align:baseline;position:relative;top:0.28em;line-height:0"><i>k</i></sub></div>
<div class="a se m" style="left:1140.9px;top:809.0px;font-size:19.6px;color:#222;"><span style="position:relative;display:inline-block"><i>g</i><span style="position:absolute;left:0.12em;top:-0.42em;font-style:normal;font-size:85%">~</span></span><sub style="font-size:70%;vertical-align:baseline;position:relative;top:0.28em;line-height:0"><i>k</i></sub><span style="position:relative;left:-0.5em;top:-0.6em;font-size:62%">⊤</span></div>
<div class="a se m" style="left:1185.7px;top:809.0px;font-size:19.6px;color:#222;">−<i>δ</i></div>
<div class="a se m" style="left:1233.3px;top:785.9px;font-size:19.6px;color:#222;"><span style="position:relative;display:inline-block"><i>v</i><span style="position:absolute;left:0.12em;top:-0.42em;font-style:normal;font-size:85%">~</span></span></div>
<div class="a se m" style="left:1234.0px;top:809.0px;font-size:19.6px;color:#222;"><i>t</i></div>
<div class="a se m" style="left:941.1px;top:862.4px;font-size:19.6px;color:#222;"><span style="position:relative;display:inline-block"><i>d</i><span style="position:absolute;left:0.12em;top:-0.42em;font-style:normal;font-size:85%">~</span></span><sub style="font-size:70%;vertical-align:baseline;position:relative;top:0.28em;line-height:0"><i>k</i></sub></div>
<div class="a se m" style="left:985.3px;top:862.4px;font-size:19.6px;color:#222;">:=</div>
<div class="a se m" style="left:1026.8px;top:848.1px;font-size:19.6px;color:#222;transform-origin:0 0;transform:scaleX(1.3990);"><span style="position:relative;display:inline-block"><i>v</i><span style="position:absolute;left:0.12em;top:-0.42em;font-style:normal;font-size:85%">~</span></span><sub style="font-size:70%;vertical-align:baseline;position:relative;top:0.28em;line-height:0"><i>k</i></sub>/<i>t</i><sub style="font-size:70%;vertical-align:baseline;position:relative;top:0.28em;line-height:0"><i>k</i></sub></div>
<div class="a se m" style="left:1090.6px;top:848.1px;font-size:19.6px;color:#222;transform-origin:0 0;transform:scaleX(1.2018);">if <i>t</i><sub style="font-size:70%;vertical-align:baseline;position:relative;top:0.28em;line-height:0"><i>k</i></sub> ≠ 0</div>
<div class="a se m" style="left:1026.8px;top:876.0px;font-size:19.6px;color:#222;"><span style="position:relative;display:inline-block"><i>v</i><span style="position:absolute;left:0.12em;top:-0.42em;font-style:normal;font-size:85%">~</span></span><sub style="font-size:70%;vertical-align:baseline;position:relative;top:0.28em;line-height:0"><i>k</i></sub></div>
<div class="a se m" style="left:1090.6px;top:876.0px;font-size:19.6px;color:#222;transform-origin:0 0;transform:scaleX(1.1957);">if <i>t</i><sub style="font-size:70%;vertical-align:baseline;position:relative;top:0.28em;line-height:0"><i>k</i></sub> = 0</div>
<div class="a se m" style="left:941.1px;top:911.6px;font-size:19.6px;color:#222;"><i>d</i><sub style="font-size:70%;vertical-align:baseline;position:relative;top:0.28em;line-height:0"><i>k</i></sub></div>
<div class="a se m" style="left:985.3px;top:911.6px;font-size:19.6px;color:#222;">:= <i>P</i><sub style="font-size:70%;vertical-align:baseline;position:relative;top:0.28em;line-height:0"><i>k</i></sub><span style="position:relative;left:-0.45em;top:-0.55em;font-size:65%">⊤</span><span style="position:relative;display:inline-block"><i>d</i><span style="position:absolute;left:0.12em;top:-0.42em;font-style:normal;font-size:85%">~</span></span><sub style="font-size:70%;vertical-align:baseline;position:relative;top:0.28em;line-height:0"><i>k</i></sub></div>
<div class="a se m" style="left:941.1px;top:961.6px;font-size:19.6px;color:#222;transform-origin:0 0;transform:scaleX(1.2900);"><i>x</i><sub style="font-size:70%;vertical-align:baseline;position:relative;top:0.28em;line-height:0"><i>k</i>+1</sub> :=</div>
<div class="a se m" style="left:1026.8px;top:947.3px;font-size:19.6px;color:#222;transform-origin:0 0;transform:scaleX(1.3362);"><i>x</i><sub style="font-size:70%;vertical-align:baseline;position:relative;top:0.28em;line-height:0"><i>k</i></sub> +</div>
<div class="a se m" style="left:1085.9px;top:946.7px;font-size:13px;color:#222;">Δ</div>
<div class="a se m" style="left:1074.3px;top:962.4px;font-size:12.5px;color:#222;transform-origin:0 0;transform:scaleX(1.7337);">||<i>d</i><sub style="font-size:70%;vertical-align:baseline;position:relative;top:0.28em;line-height:0"><i>k</i></sub>||</div>
<div class="a se m" style="left:1111.0px;top:947.3px;font-size:19.6px;color:#222;"><i>d</i><sub style="font-size:70%;vertical-align:baseline;position:relative;top:0.28em;line-height:0"><i>k</i></sub></div>
<div class="a se m" style="left:1150.1px;top:947.3px;font-size:19.6px;color:#222;transform-origin:0 0;transform:scaleX(1.2358);">if ||<i>d</i><sub style="font-size:70%;vertical-align:baseline;position:relative;top:0.28em;line-height:0"><i>k</i></sub>|| &gt; Δ</div>
<div class="a se m" style="left:1026.8px;top:976.2px;font-size:19.6px;color:#222;transform-origin:0 0;transform:scaleX(1.2452);"><i>x</i><sub style="font-size:70%;vertical-align:baseline;position:relative;top:0.28em;line-height:0"><i>k</i></sub> + <i>d</i><sub style="font-size:70%;vertical-align:baseline;position:relative;top:0.28em;line-height:0"><i>k</i></sub></div>
<div class="a se m" style="left:1150.1px;top:976.2px;font-size:19.6px;color:#222;transform-origin:0 0;transform:scaleX(1.2403);">if ||<i>d</i><sub style="font-size:70%;vertical-align:baseline;position:relative;top:0.28em;line-height:0"><i>k</i></sub>|| ≤ Δ</div>
<div class="a ns b" style="left:1320.8px;top:684.8px;font-size:22.1px;color:#ff3b3b;">1.</div>
<div class="a ns b" style="left:1351.8px;top:684.8px;font-size:22.1px;color:#ff3b3b;letter-spacing:0.163px;">calculate derivatives</div>
<div class="a ns b" style="left:1351.8px;top:712.7px;font-size:22.1px;color:#ff3b3b;letter-spacing:0.186px;">in a random subspace</div>
<div class="a ns b" style="left:1334.3px;top:754.7px;font-size:17.8px;color:#e69138;letter-spacing:0.093px;">(utilizing Hessian-vector product)</div>
<div class="a ns b" style="left:1320.8px;top:824.1px;font-size:22.1px;color:#6aa84f;">2.</div>
<div class="a ns b" style="left:1351.8px;top:824.1px;font-size:22.1px;color:#6aa84f;letter-spacing:0.226px;">perform HSODM</div>
<div class="a ns b" style="left:1353.3px;top:850.6px;font-size:22.1px;color:#6aa84f;letter-spacing:0.234px;">in the subspace</div>
<div class="a ns b" style="left:1320.8px;top:949.1px;font-size:22.1px;color:#3c78d8;">3.</div>
<div class="a ns b" style="left:1351.8px;top:949.1px;font-size:22.1px;color:#3c78d8;letter-spacing:0.171px;">update the position</div>
<div class="a ns b" style="left:1353.3px;top:976.0px;font-size:22.1px;color:#3c78d8;letter-spacing:0.208px;">in the full space</div>
<div class="a ns bart" style="left:919.5px;top:1052.6px;font-size:36px;letter-spacing:-0.484px;">Main Result <span class="rn">I</span>: Global Convergence Rate</div>
<div class="sq" style="left:897.9px;top:1129px;width:10.5px;height:10.5px"></div>
<div class="a cj b" style="left:923.7px;top:1118.7px;font-size:22.2px;">Theorem (Global Convergence Guarantees)</div>
<div class="a cj" style="left:923.7px;top:1158.5px;font-size:22.2px;">With high probability, RSHTR converges to</div>
<div class="a cj" style="left:918.3px;top:1198.6px;font-size:22.2px;">1.</div>
<div class="a cj" style="left:949.7px;top:1198.6px;font-size:22.2px;">a first-order stationary point within</div>
<div class="a se m" style="left:1320.1px;top:1198.1px;font-size:26px;color:#ff5a5a;letter-spacing:1.6px;"><span style="display:inline-block;transform-origin:0 80%;transform:scaleX(1.2)"><i style="-webkit-text-stroke:0.35px #ff5a5a">O</i><span style="font-size:112%;position:relative;top:0.04em">(</span><i>ε</i><span style="font-size:66%;position:relative;top:-0.62em;letter-spacing:1.2px;margin-left:1px"><b>−3/2</b></span><span style="font-size:112%;position:relative;top:0.04em">)</span></span></div>
<div class="a cj" style="left:1440.0px;top:1198.6px;font-size:22.2px;">iterations</div>
<div class="box" style="left:929.8px;top:1234.3px;width:658px;height:107.4px;border-radius:3px;"></div>
<svg style="left:953.2px;top:1254.0px" width="10" height="11"><path d="M0 0 L9.2 5.2 L0 10.4 Z" fill="#000"/></svg>
<div class="a cj" style="left:976.3px;top:1246.1px;font-size:22.2px;">(ε-approx.) first-order stationary condition:</div>
<div class="a se m" style="left:1179.8px;top:1298.1px;font-size:21.3px;color:#444;transform-origin:0 0;transform:scaleX(1.2359);"><span style="letter-spacing:-0.5px">||</span>∇<i>f</i>(<i>x</i>)<span style="letter-spacing:-0.5px">||</span> ≤ <i>O</i>(<i>ε</i>)</div>
<div class="a cj" style="left:918.3px;top:1359.2px;font-size:22.2px;">2.</div>
<div class="a cj" style="left:949.7px;top:1359.2px;font-size:22.2px;">a second-order stationary point within</div>
<div class="a se m" style="left:1353.1px;top:1358.7px;font-size:26px;color:#ff5a5a;letter-spacing:1.6px;"><span style="display:inline-block;transform-origin:0 80%;transform:scaleX(1.2)"><i style="-webkit-text-stroke:0.35px #ff5a5a">O</i><span style="font-size:112%;position:relative;top:0.04em">(</span><i>ε</i><span style="font-size:66%;position:relative;top:-0.62em;letter-spacing:1.2px;margin-left:1px"><b>−3/2</b></span><span style="font-size:112%;position:relative;top:0.04em">)</span></span></div>
<div class="a cj" style="left:1473.0px;top:1359.2px;font-size:22.2px;">iterations</div>
<div class="a cj" style="left:949.7px;top:1389.9px;font-size:22.2px;">under the assumption of <b class="grn"><i>rank deficiency</i></b></div>
<div class="box" style="left:929.8px;top:1421.5px;width:658px;height:99.6px;border-radius:3px;"></div>
<svg style="left:953.2px;top:1443.6px" width="10" height="11"><path d="M0 0 L9.2 5.2 L0 10.4 Z" fill="#000"/></svg>
<div class="a cj" style="left:976.3px;top:1435.7px;font-size:22.2px;">(ε-approx.) second-order stationary condition:</div>
<div class="a se m" style="left:1023.6px;top:1479.2px;font-size:21.3px;color:#444;transform-origin:0 0;transform:scaleX(1.2946);"><span style="letter-spacing:-0.5px">||</span>∇<i>f</i>(<i>x</i>)<span style="letter-spacing:-0.5px">||</span> ≤ <i>O</i>(<i>ε</i>)    and    <i>λ</i><sub style="font-size:70%;vertical-align:baseline;position:relative;top:0.28em;line-height:0">min</sub>(∇<sup style="font-size:70%;vertical-align:baseline;position:relative;top:-0.62em;line-height:0">2</sup><i>f</i>(<i>x</i>)) ≥ −<i>O</i>(√<span style="text-decoration:overline;text-decoration-thickness:1px"><i>ε</i></span>)</div>
<div class="box" style="left:929.8px;top:1535.3px;width:658px;height:158px;border-radius:3px;"></div>
<svg style="left:953.2px;top:1553.0px" width="10" height="11"><path d="M0 0 L9.2 5.2 L0 10.4 Z" fill="#000"/></svg>
<div class="a cj b grn" style="left:976.3px;top:1545.1px;font-size:22.2px;">rank deficiency:</div>
<svg style="left:0;top:0" width="2500" height="1768"><path d="M1210.3 1547.2 H1386.4 a4 4 0 0 1 4 4 V1579.9 a4 4 0 0 1 -4 4 H1282.8 L1236.2 1594.8 L1235.2 1583.9 H1210.3 a4 4 0 0 1 -4 -4 V1551.2 a4 4 0 0 1 4 -4 Z" fill="#fff" stroke="#888" stroke-width="0.9" stroke-dasharray="2.6 2.2"/></svg>
<div class="a ns" style="left:1233.5px;top:1559.7px;font-size:13.4px;color:#111;letter-spacing:0.135px;">RSHTR's output point</div>
<div class="a se m" style="left:1113.6px;top:1598.1px;font-size:21.3px;color:#444;transform-origin:0 0;transform:scaleX(1.2353);">rank(∇<sup style="font-size:70%;vertical-align:baseline;position:relative;top:-0.62em;line-height:0">2</sup><i>f</i>(<i>x</i><sub style="font-size:70%;vertical-align:baseline;position:relative;top:0.28em;line-height:0">out</sub>)) ≤ (subspace dim.)</div>
<div class="a" style="left:978px;top:1646.8px;width:10.8px;height:10.8px;border-radius:50%;background:#000;"></div>
<div class="a cj" style="left:1003.5px;top:1637.5px;font-size:22.2px;">holds in many machine-learning practice</div>
<div class="a ns bart" style="left:1725.9px;top:379.8px;font-size:36px;letter-spacing:-0.557px;">Main Result <span class="rn">II</span>: Local Convergence Rate</div>
<div class="sq" style="left:1701.4px;top:456.2px;width:10.5px;height:10.5px"></div>
<div class="a cj b" style="left:1726.9px;top:445.5px;font-size:22.2px;">Theorem (Local Convergence Guarantees)</div>
<div class="a cj" style="left:1726.9px;top:485.8px;font-size:22.2px;">Assume that  the initial point is sufficiently close to a local</div>
<div class="a cj" style="left:1726.9px;top:525.8px;font-size:22.2px;">minimizer. Then, with high probability, RSHTR</div>
<div class="a cj" style="left:1721.5px;top:565.8px;font-size:22.2px;">1.</div>
<div class="a cj" style="left:1753.4px;top:565.8px;font-size:22.2px;">locally converges at a <b class="red" style="text-decoration:underline;text-decoration-thickness:1.9px;text-underline-offset:1.5px;text-decoration-skip-ink:none;">linear rate</b> in general.</div>
<div class="a cj" style="left:1721.5px;top:605.8px;font-size:22.2px;">2.</div>
<div class="a cj" style="left:1753.4px;top:605.8px;font-size:22.2px;">locally converges at a <b class="red" style="text-decoration:underline;text-decoration-thickness:1.9px;text-underline-offset:1.5px;text-decoration-skip-ink:none;">quadratic rate</b> under the assumptions of</div>
<div class="a cj" style="left:1753.9px;top:645.8px;font-size:22.2px;"><b class="grn"><i>s-low dimensionality</i></b> and strong convexity in the effective</div>
<div class="a cj" style="left:1753.4px;top:685.8px;font-size:22.2px;">dimension.</div>
<div class="box" style="left:1721.4px;top:726.5px;width:670.3px;height:281px;border-radius:11px;"></div>
<svg style="left:1756.8px;top:748.4px" width="10" height="11"><path d="M0 0 L9.2 5.2 L0 10.4 Z" fill="#000"/></svg>
<div class="a cj" style="left:1779.9px;top:741.4px;font-size:22.2px;"><b class="grn">s-low dimensionality:</b> a property where a function varies</div>
<div class="a cj" style="left:1779.9px;top:781.3px;font-size:22.2px;">only over an s-dimensional subspace</div>
<div class="a se m" style="left:1789.4px;top:855.5px;font-size:21.3px;color:#444;transform-origin:0 0;transform:scaleX(1.2047);">∃Π ∈ ℝ<sup style="font-size:70%;vertical-align:baseline;position:relative;top:-0.62em;line-height:0"><i>n</i>×<i>n</i></sup> :  orthogonal and rank(Π) ≤ <i>s</i></div>
<div class="a se m" style="left:1826.1px;top:888.8px;font-size:21.3px;color:#444;transform-origin:0 0;transform:scaleX(1.2760);">s.t. ∀<i>x</i> ∈ ℝ<sup style="font-size:70%;vertical-align:baseline;position:relative;top:-0.62em;line-height:0"><i>n</i></sup>, <i>f</i>(<i>x</i>) = <i>f</i>(Π<i>x</i>)</div>
<div class="a" style="left:1781.2px;top:970.8px;width:11px;height:11px;border-radius:50%;background:#000;"></div>
<div class="a cj" style="left:1806.7px;top:961.8px;font-size:22.2px;">encounter in many machine-learning applications</div>
<svg style="left:0;top:0" width="2500" height="1768" viewBox="0 0 2500 1768"><polygon points="2232.7,905.2 2316.4,932.6 2360.8,886.9 2281.9,864.0" fill="#ebebeb" /><polygon points="2232.7,905.2 2281.9,864.0 2281.2,804.5 2229.6,842.1" fill="#efefef" /><polygon points="2281.9,864.0 2360.8,886.9 2363.6,825.4 2281.2,804.5" fill="#e9e9e9" /><path d="M2234.3 905.8L2283.4 864.4M2233.7 904.3L2317.3 931.6M2283.4 864.4L2282.8 804.9M2233.7 904.3L2230.8 841.3M2243.9 908.9L2292.5 867.1M2240.1 899.0L2323.1 925.7M2292.5 867.1L2292.2 807.3M2240.1 899.0L2237.4 836.4M2253.6 912.1L2301.7 869.7M2246.3 893.8L2328.7 919.9M2301.7 869.7L2301.8 809.7M2246.3 893.8L2243.9 831.7M2263.4 915.3L2311.0 872.5M2252.4 888.7L2334.2 914.3M2311.0 872.5L2311.5 812.2M2252.4 888.7L2250.3 827.0M2273.4 918.5L2320.4 875.2M2258.3 883.7L2339.6 908.7M2320.4 875.2L2321.4 814.7M2258.3 883.7L2256.6 822.5M2283.5 921.8L2329.9 878.0M2264.1 878.8L2344.9 903.3M2329.9 878.0L2331.3 817.2M2264.1 878.8L2262.7 818.0M2293.7 925.2L2339.6 880.8M2269.9 874.1L2350.0 898.0M2339.6 880.8L2341.4 819.8M2269.9 874.1L2268.6 813.7M2304.1 928.6L2349.3 883.6M2275.5 869.4L2355.1 892.9M2349.3 883.6L2351.6 822.4M2275.5 869.4L2274.5 809.4M2314.6 932.0L2359.2 886.5M2281.0 864.7L2360.0 887.8M2359.2 886.5L2361.9 825.0M2281.0 864.7L2280.2 805.2M2232.6 904.0L2281.9 862.8M2281.9 862.8L2360.9 885.8M2232.3 896.7L2281.8 856.0M2281.8 856.0L2361.2 878.6M2231.9 889.4L2281.7 849.0M2281.7 849.0L2361.5 871.5M2231.5 881.9L2281.6 842.0M2281.6 842.0L2361.9 864.2M2231.2 874.4L2281.5 834.9M2281.5 834.9L2362.2 856.8M2230.8 866.8L2281.5 827.7M2281.5 827.7L2362.5 849.4M2230.4 859.1L2281.4 820.5M2281.4 820.5L2362.9 841.9M2230.1 851.3L2281.3 813.1M2281.3 813.1L2363.2 834.4M2229.7 843.5L2281.2 805.7M2281.2 805.7L2363.6 826.7" stroke="#d4d4d4" stroke-width="0.45" fill="none"/><line x1="2232.7" y1="905.2" x2="2316.4" y2="932.6" stroke="#999" stroke-width="0.5"/><line x1="2316.4" y1="932.6" x2="2360.8" y2="886.9" stroke="#999" stroke-width="0.5"/><line x1="2360.8" y1="886.9" x2="2363.6" y2="825.4" stroke="#999" stroke-width="0.5"/><polygon points="2359.3,848.2 2360.0,850.0 2358.8,847.1" fill="#5ac864" stroke="#5ac864" stroke-width="0.5"/><polygon points="2358.6,846.7 2359.3,848.2 2358.8,847.1 2357.5,844.5" fill="#81d34d" stroke="#81d34d" stroke-width="0.5"/><polygon points="2357.8,845.6 2358.6,846.7 2357.5,844.5 2356.3,842.2" fill="#a9db33" stroke="#a9db33" stroke-width="0.5"/><polygon points="2357.0,844.7 2357.8,845.6 2356.3,842.2 2355.0,840.2" fill="#cbe120" stroke="#cbe120" stroke-width="0.5"/><polygon points="2356.2,844.4 2357.0,844.7 2355.0,840.2 2353.7,838.7" fill="#e4e41a" stroke="#e4e41a" stroke-width="0.5"/><polygon points="2355.4,844.4 2356.2,844.4 2353.7,838.7 2352.4,837.7" fill="#f4e621" stroke="#f4e621" stroke-width="0.5"/><polygon points="2354.6,845.0 2355.4,844.4 2352.4,837.7 2351.1,837.1" fill="#fce725" stroke="#fce725" stroke-width="0.5"/><polygon points="2353.7,846.0 2354.6,845.0 2351.1,837.1 2349.7,837.0" fill="#fce725" stroke="#fce725" stroke-width="0.5"/><polygon points="2352.9,847.5 2353.7,846.0 2349.7,837.0 2348.4,837.3" fill="#f4e621" stroke="#f4e621" stroke-width="0.5"/><polygon points="2352.0,849.5 2352.9,847.5 2348.4,837.3 2347.0,838.1" fill="#e4e41a" stroke="#e4e41a" stroke-width="0.5"/><polygon points="2351.0,851.9 2352.0,849.5 2347.0,838.1 2345.6,839.3" fill="#cbe120" stroke="#cbe120" stroke-width="0.5"/><polygon points="2350.1,854.6 2351.0,851.9 2345.6,839.3 2344.3,840.9" fill="#a9db33" stroke="#a9db33" stroke-width="0.5"/><polygon points="2349.2,857.7 2350.1,854.6 2344.3,840.9 2342.9,842.8" fill="#81d34c" stroke="#81d34c" stroke-width="0.5"/><polygon points="2348.2,861.1 2349.2,857.7 2342.9,842.8 2341.5,845.0" fill="#5ac864" stroke="#5ac864" stroke-width="0.5"/><polygon points="2347.2,864.7 2348.2,861.1 2341.5,845.0 2340.1,847.3" fill="#37b878" stroke="#37b878" stroke-width="0.5"/><polygon points="2346.3,868.4 2347.2,864.7 2340.1,847.3 2338.7,849.7" fill="#21a685" stroke="#21a685" stroke-width="0.5"/><polygon points="2345.3,872.1 2346.3,868.4 2338.7,849.7 2337.3,852.2" fill="#20938b" stroke="#20938b" stroke-width="0.5"/><polygon points="2344.3,875.8 2345.3,872.1 2337.3,852.2 2336.0,854.6" fill="#277e8e" stroke="#277e8e" stroke-width="0.5"/><polygon points="2343.4,879.4 2344.3,875.8 2336.0,854.6 2334.6,856.9" fill="#2f6b8e" stroke="#2f6b8e" stroke-width="0.5"/><polygon points="2342.4,882.8 2343.4,879.4 2334.6,856.9 2333.3,859.1" fill="#38588c" stroke="#38588c" stroke-width="0.5"/><polygon points="2341.5,886.0 2342.4,882.8 2333.3,859.1 2331.9,860.9" fill="#414587" stroke="#414587" stroke-width="0.5"/><polygon points="2340.5,888.9 2341.5,886.0 2331.9,860.9 2330.6,862.5" fill="#46317e" stroke="#46317e" stroke-width="0.5"/><polygon points="2339.6,891.3 2340.5,888.9 2330.6,862.5 2329.3,863.7" fill="#482071" stroke="#482071" stroke-width="0.5"/><polygon points="2338.7,893.4 2339.6,891.3 2329.3,863.7 2328.0,864.5" fill="#471264" stroke="#471264" stroke-width="0.5"/><polygon points="2337.8,895.1 2338.7,893.4 2328.0,864.5 2326.7,864.9" fill="#45085b" stroke="#45085b" stroke-width="0.5"/><polygon points="2336.9,896.3 2337.8,895.1 2326.7,864.9 2325.5,864.9" fill="#440255" stroke="#440255" stroke-width="0.5"/><polygon points="2336.0,897.1 2336.9,896.3 2325.5,864.9 2324.2,864.4" fill="#440154" stroke="#440154" stroke-width="0.5"/><polygon points="2335.1,897.3 2336.0,897.1 2324.2,864.4 2323.0,863.5" fill="#450558" stroke="#450558" stroke-width="0.5"/><polygon points="2334.3,897.2 2335.1,897.3 2323.0,863.5 2321.7,862.1" fill="#460e60" stroke="#460e60" stroke-width="0.5"/><polygon points="2333.4,896.6 2334.3,897.2 2321.7,862.1 2320.5,860.3" fill="#471a6c" stroke="#471a6c" stroke-width="0.5"/><polygon points="2332.6,895.6 2333.4,896.6 2320.5,860.3 2319.2,858.2" fill="#472a79" stroke="#472a79" stroke-width="0.5"/><polygon points="2331.7,894.3 2332.6,895.6 2319.2,858.2 2318.0,855.8" fill="#433c84" stroke="#433c84" stroke-width="0.5"/><polygon points="2330.9,892.7 2331.7,894.3 2318.0,855.8 2316.8,853.0" fill="#3c508a" stroke="#3c508a" stroke-width="0.5"/><polygon points="2330.0,890.8 2330.9,892.7 2316.8,853.0 2315.6,850.1" fill="#33638d" stroke="#33638d" stroke-width="0.5"/><polygon points="2329.1,888.8 2330.0,890.8 2315.6,850.1 2314.4,847.0" fill="#2b778e" stroke="#2b778e" stroke-width="0.5"/><polygon points="2328.3,886.8 2329.1,888.8 2314.4,847.0 2313.1,843.9" fill="#238b8d" stroke="#238b8d" stroke-width="0.5"/><polygon points="2327.4,884.7 2328.3,886.8 2313.1,843.9 2311.9,840.8" fill="#1f9e88" stroke="#1f9e88" stroke-width="0.5"/><polygon points="2326.5,882.7 2327.4,884.7 2311.9,840.8 2310.7,837.7" fill="#2cb17e" stroke="#2cb17e" stroke-width="0.5"/><polygon points="2325.7,880.9 2326.5,882.7 2310.7,837.7 2309.4,834.9" fill="#4bc26c" stroke="#4bc26c" stroke-width="0.5"/><polygon points="2324.8,879.3 2325.7,880.9 2309.4,834.9 2308.2,832.2" fill="#71cf56" stroke="#71cf56" stroke-width="0.5"/><polygon points="2323.8,878.0 2324.8,879.3 2308.2,832.2 2306.9,829.8" fill="#99d93d" stroke="#99d93d" stroke-width="0.5"/><polygon points="2322.9,877.1 2323.8,878.0 2306.9,829.8 2305.7,827.8" fill="#bedf26" stroke="#bedf26" stroke-width="0.5"/><polygon points="2322.0,876.6 2322.9,877.1 2305.7,827.8 2304.4,826.2" fill="#dbe319" stroke="#dbe319" stroke-width="0.5"/><polygon points="2321.0,876.5 2322.0,876.6 2304.4,826.2 2303.2,825.0" fill="#efe51f" stroke="#efe51f" stroke-width="0.5"/><polygon points="2320.1,877.0 2321.0,876.5 2303.2,825.0 2301.9,824.2" fill="#fae724" stroke="#fae724" stroke-width="0.5"/><polygon points="2319.1,877.9 2320.1,877.0 2301.9,824.2 2300.7,823.9" fill="#fde725" stroke="#fde725" stroke-width="0.5"/><polygon points="2318.1,879.4 2319.1,877.9 2300.7,823.9 2299.4,824.1" fill="#f8e623" stroke="#f8e623" stroke-width="0.5"/><polygon points="2317.1,881.3 2318.1,879.4 2299.4,824.1 2298.2,824.7" fill="#ebe51d" stroke="#ebe51d" stroke-width="0.5"/><polygon points="2316.0,883.6 2316.2,883.5 2317.1,881.3 2298.2,824.7 2296.9,825.8" fill="#d6e21c" stroke="#d6e21c" stroke-width="0.5"/><polygon points="2314.6,885.1 2316.0,883.6 2296.9,825.8 2295.7,827.2" fill="#b7de2a" stroke="#b7de2a" stroke-width="0.5"/><polygon points="2313.1,886.9 2314.6,885.1 2295.7,827.2 2294.5,829.0" fill="#92d742" stroke="#92d742" stroke-width="0.5"/><polygon points="2311.7,889.1 2313.1,886.9 2294.5,829.0 2293.2,831.0" fill="#6acc5b" stroke="#6acc5b" stroke-width="0.5"/><polygon points="2310.3,891.5 2311.7,889.1 2293.2,831.0 2292.0,833.2" fill="#44bf70" stroke="#44bf70" stroke-width="0.5"/><polygon points="2308.8,894.0 2310.3,891.5 2292.0,833.2 2290.8,835.6" fill="#28ad81" stroke="#28ad81" stroke-width="0.5"/><polygon points="2307.4,896.5 2308.8,894.0 2290.8,835.6 2289.6,838.0" fill="#1f9a8a" stroke="#1f9a8a" stroke-width="0.5"/><polygon points="2306.0,899.1 2307.4,896.5 2289.6,838.0 2288.4,840.5" fill="#24868e" stroke="#24868e" stroke-width="0.5"/><polygon points="2304.6,901.6 2306.0,899.1 2288.4,840.5 2287.2,842.8" fill="#2c738e" stroke="#2c738e" stroke-width="0.5"/><polygon points="2303.2,903.9 2304.6,901.6 2287.2,842.8 2286.0,845.0" fill="#355f8d" stroke="#355f8d" stroke-width="0.5"/><polygon points="2301.8,905.9 2303.2,903.9 2286.0,845.0 2284.8,846.9" fill="#3e4c89" stroke="#3e4c89" stroke-width="0.5"/><polygon points="2300.4,907.7 2301.8,905.9 2284.8,846.9 2283.6,848.6" fill="#453982" stroke="#453982" stroke-width="0.5"/><polygon points="2299.0,909.1 2300.4,907.7 2283.6,848.6 2282.4,849.9" fill="#482777" stroke="#482777" stroke-width="0.5"/><polygon points="2297.7,910.0 2299.0,909.1 2282.4,849.9 2282.3,850.1 2281.5,851.9" fill="#471769" stroke="#471769" stroke-width="0.5"/><polygon points="2296.3,910.6 2297.7,910.0 2281.5,851.9 2280.6,853.5" fill="#460c5e" stroke="#460c5e" stroke-width="0.5"/><polygon points="2294.9,910.7 2296.3,910.6 2280.6,853.5 2279.7,854.7" fill="#440457" stroke="#440457" stroke-width="0.5"/><polygon points="2293.6,910.3 2294.9,910.7 2279.7,854.7 2278.8,855.5" fill="#440154" stroke="#440154" stroke-width="0.5"/><polygon points="2292.2,909.4 2293.6,910.3 2278.8,855.5 2277.9,855.9" fill="#440356" stroke="#440356" stroke-width="0.5"/><polygon points="2290.9,908.1 2292.2,909.4 2277.9,855.9 2277.0,855.8" fill="#450a5c" stroke="#450a5c" stroke-width="0.5"/><polygon points="2289.5,906.4 2290.9,908.1 2277.0,855.8 2276.0,855.3" fill="#471567" stroke="#471567" stroke-width="0.5"/><polygon points="2288.1,904.2 2289.5,906.4 2276.0,855.3 2275.1,854.4" fill="#482375" stroke="#482375" stroke-width="0.5"/><polygon points="2286.8,901.7 2288.1,904.2 2275.1,854.4 2274.1,853.2" fill="#463580" stroke="#463580" stroke-width="0.5"/><polygon points="2285.4,898.8 2286.8,901.7 2274.1,853.2 2273.2,851.7" fill="#3f4888" stroke="#3f4888" stroke-width="0.5"/><polygon points="2284.0,895.7 2285.4,898.8 2273.2,851.7 2272.2,849.9" fill="#375b8c" stroke="#375b8c" stroke-width="0.5"/><polygon points="2282.6,892.5 2284.0,895.7 2272.2,849.9 2271.2,848.0" fill="#2e6f8e" stroke="#2e6f8e" stroke-width="0.5"/><polygon points="2281.2,889.1 2282.6,892.5 2271.2,848.0 2270.2,846.0" fill="#26828e" stroke="#26828e" stroke-width="0.5"/><polygon points="2279.8,885.7 2281.2,889.1 2270.2,846.0 2269.2,843.9" fill="#20968b" stroke="#20968b" stroke-width="0.5"/><polygon points="2278.4,882.4 2279.8,885.7 2269.2,843.9 2268.2,841.9" fill="#23a983" stroke="#23a983" stroke-width="0.5"/><polygon points="2277.1,879.2 2278.4,882.4 2268.2,841.9 2267.2,840.0" fill="#3dbb74" stroke="#3dbb74" stroke-width="0.5"/><polygon points="2275.7,876.2 2277.1,879.2 2267.2,840.0 2266.2,838.3" fill="#62ca60" stroke="#62ca60" stroke-width="0.5"/><polygon points="2274.3,873.5 2275.7,876.2 2266.2,838.3 2265.1,836.9" fill="#8ad547" stroke="#8ad547" stroke-width="0.5"/><polygon points="2272.9,871.1 2274.3,873.5 2265.1,836.9 2264.1,835.8" fill="#b0dd2e" stroke="#b0dd2e" stroke-width="0.5"/><polygon points="2271.5,869.2 2272.9,871.1 2264.1,835.8 2263.1,835.1" fill="#d1e11e" stroke="#d1e11e" stroke-width="0.5"/><polygon points="2270.1,867.7 2271.5,869.2 2263.1,835.1 2262.1,834.8" fill="#e8e41c" stroke="#e8e41c" stroke-width="0.5"/><polygon points="2268.7,866.6 2270.1,867.7 2262.1,834.8 2261.1,834.9" fill="#f6e622" stroke="#f6e622" stroke-width="0.5"/><polygon points="2267.4,866.1 2268.7,866.6 2261.1,834.9 2260.1,835.5" fill="#fde725" stroke="#fde725" stroke-width="0.5"/><polygon points="2266.1,866.0 2267.4,866.1 2260.1,835.5 2259.1,836.6" fill="#fbe724" stroke="#fbe724" stroke-width="0.5"/><polygon points="2264.7,866.5 2266.1,866.0 2259.1,836.6 2258.1,838.1" fill="#f1e520" stroke="#f1e520" stroke-width="0.5"/><polygon points="2263.4,867.4 2264.7,866.5 2258.1,838.1 2257.2,840.1" fill="#e0e318" stroke="#e0e318" stroke-width="0.5"/><polygon points="2262.1,868.7 2263.4,867.4 2257.2,840.1 2256.2,842.6" fill="#c4e023" stroke="#c4e023" stroke-width="0.5"/><polygon points="2260.8,870.4 2262.1,868.7 2256.2,842.6 2255.3,845.3" fill="#a1da38" stroke="#a1da38" stroke-width="0.5"/><polygon points="2259.6,872.4 2260.8,870.4 2255.3,845.3 2254.3,848.4" fill="#79d152" stroke="#79d152" stroke-width="0.5"/><polygon points="2258.3,874.6 2259.6,872.4 2254.3,848.4 2253.4,851.8" fill="#53c568" stroke="#53c568" stroke-width="0.5"/><polygon points="2257.1,877.1 2258.3,874.6 2253.4,851.8 2252.5,855.3" fill="#30b57b" stroke="#30b57b" stroke-width="0.5"/><polygon points="2255.9,879.6 2257.1,877.1 2252.5,855.3 2251.6,858.9" fill="#20a287" stroke="#20a287" stroke-width="0.5"/><polygon points="2254.6,882.1 2255.9,879.6 2251.6,858.9 2250.6,862.6" fill="#228f8c" stroke="#228f8c" stroke-width="0.5"/><polygon points="2253.4,884.6 2254.6,882.1 2250.6,862.6 2249.7,866.2" fill="#297a8e" stroke="#297a8e" stroke-width="0.5"/><polygon points="2252.2,887.0 2253.4,884.6 2249.7,866.2 2248.8,869.7" fill="#31678e" stroke="#31678e" stroke-width="0.5"/><polygon points="2251.0,889.1 2252.2,887.0 2248.8,869.7 2247.9,873.0" fill="#3a548b" stroke="#3a548b" stroke-width="0.5"/><polygon points="2249.8,891.0 2251.0,889.1 2247.9,873.0 2246.9,876.0" fill="#424085" stroke="#424085" stroke-width="0.5"/><polygon points="2248.6,892.5 2249.8,891.0 2246.9,876.0 2246.0,878.8" fill="#472d7b" stroke="#472d7b" stroke-width="0.5"/><polygon points="2247.3,893.6 2248.6,892.5 2246.0,878.8 2245.0,881.1" fill="#481d6e" stroke="#481d6e" stroke-width="0.5"/><polygon points="2246.1,894.4 2247.3,893.6 2245.0,881.1 2244.1,883.1" fill="#461062" stroke="#461062" stroke-width="0.5"/><polygon points="2244.9,894.7 2246.1,894.4 2244.1,883.1 2243.0,884.6" fill="#450659" stroke="#450659" stroke-width="0.5"/><polygon points="2243.6,894.5 2244.9,894.7 2243.0,884.6 2242.0,885.7" fill="#440255" stroke="#440255" stroke-width="0.5"/><polygon points="2242.3,893.8 2243.6,894.5 2242.0,885.7 2241.0,886.3" fill="#440255" stroke="#440255" stroke-width="0.5"/><polygon points="2241.0,892.7 2242.3,893.8 2241.0,886.3 2239.9,886.4" fill="#450659" stroke="#450659" stroke-width="0.5"/><polygon points="2239.7,891.2 2241.0,892.7 2239.9,886.4 2238.8,886.2" fill="#461062" stroke="#461062" stroke-width="0.5"/><polygon points="2238.3,889.2 2239.7,891.2 2238.8,886.2 2237.7,885.5" fill="#481d6f" stroke="#481d6f" stroke-width="0.5"/><polygon points="2237.0,886.9 2238.3,889.2 2237.7,885.5 2236.6,884.4" fill="#472e7c" stroke="#472e7c" stroke-width="0.5"/><polygon points="2235.6,884.3 2237.0,886.9 2236.6,884.4 2235.4,883.0" fill="#424186" stroke="#424186" stroke-width="0.5"/><polygon points="2234.2,881.4 2235.6,884.3 2235.4,883.0" fill="#3a548b" stroke="#3a548b" stroke-width="0.5"/><g font-family="'Liberation Sans',sans-serif" font-size="2.6" fill="#666"><text x="2228.6" y="912.6" text-anchor="middle">-10.0</text><text x="2326.7" y="936.6" text-anchor="middle">-10.0</text><text x="2248.0" y="919.0" text-anchor="middle">-5.0</text><text x="2337.9" y="924.8" text-anchor="middle">-5.0</text><text x="2267.9" y="925.6" text-anchor="middle">0.0</text><text x="2348.7" y="913.5" text-anchor="middle">0.0</text><text x="2288.4" y="932.4" text-anchor="middle">5.0</text><text x="2359.0" y="902.7" text-anchor="middle">5.0</text><text x="2309.4" y="939.3" text-anchor="middle">10.0</text><text x="2368.8" y="892.3" text-anchor="middle">10.0</text><text x="2370.3" y="885.4" text-anchor="middle">-2.0</text><text x="2371.1" y="871.1" text-anchor="middle">-1.0</text><text x="2371.9" y="856.6" text-anchor="middle">0.0</text><text x="2372.7" y="841.7" text-anchor="middle">1.0</text><text x="2373.5" y="826.5" text-anchor="middle">2.0</text></g></svg>
<div class="a ns bart" style="left:1949.8px;top:1052.6px;font-size:36px;letter-spacing:-0.136px;">Experiments</div>
<div class="sq" style="left:1701.4px;top:1129px;width:10.5px;height:10.5px"></div>
<div class="a cj b" style="left:1726.9px;top:1118.7px;font-size:22.2px;">Tasks</div>
<div class="sq" style="left:2105.3px;top:1129px;width:10.5px;height:10.5px"></div>
<div class="a cj b" style="left:2131.0px;top:1118.7px;font-size:22.2px;">Methods</div>
<div class="ci" style="left:1728.6px;top:1159.9px;"></div>
<div class="a cj" style="left:1753.4px;top:1150.7px;font-size:22.2px;">matrix factorization</div>
<div class="ci" style="left:1728.6px;top:1191.8300000000002px;"></div>
<div class="a cj" style="left:1753.4px;top:1182.7px;font-size:22.2px;">classification</div>
<div class="bsq" style="left:1754.7px;top:1224.76px;width:10.5px;height:10.5px"></div>
<div class="a cj" style="left:1780.2px;top:1214.6px;font-size:22.2px;">logistic/softmax regression</div>
<div class="bsq" style="left:1754.7px;top:1256.69px;width:10.5px;height:10.5px"></div>
<div class="a cj" style="left:1780.2px;top:1246.5px;font-size:22.2px;">deep neural networks</div>
<div class="ci" style="left:1728.6px;top:1287.6200000000001px;"></div>
<div class="a cj" style="left:1753.4px;top:1278.4px;font-size:22.2px;">others (see our paper)</div>
<div class="ci" style="left:2132.5px;top:1159.9px;"></div>
<div class="a cj" style="left:2157.3px;top:1150.7px;font-size:22.2px;">gradient descent</div>
<div class="ci" style="left:2132.5px;top:1191.8300000000002px;"></div>
<div class="a cj" style="left:2157.3px;top:1182.7px;font-size:22.2px;">HSODM</div>
<div class="ci" style="left:2132.5px;top:1223.76px;"></div>
<div class="a cj" style="left:2157.3px;top:1214.6px;font-size:22.2px;">RSGD <span style="font-size:19.6px">[Kozak et al., 2021]</span></div>
<div class="ci" style="left:2132.5px;top:1255.69px;"></div>
<div class="a cj" style="left:2157.3px;top:1246.5px;font-size:22.2px;">RSRN <span style="font-size:19.6px">[Fuji et al., 2022]</span></div>
<div class="ci" style="left:2132.5px;top:1287.6200000000001px;border-color:#ff3b3b;"></div>
<div class="a cj b red" style="left:2157.3px;top:1278.4px;font-size:22.2px;">RSHTR (ours)</div>
<div class="sq" style="left:1703.8px;top:1356px;width:10.5px;height:10.5px"></div>
<div class="a cj b" style="left:1729.6px;top:1345.7px;font-size:22.2px;">Results</div>
<div class="ci" style="left:1731px;top:1385.2px;"></div>
<div class="a cj" style="left:1755.7px;top:1375.9px;font-size:22.2px;"><b><span class="red" style="text-decoration:underline;text-decoration-thickness:1.9px;text-underline-offset:1.5px;text-decoration-skip-ink:none;">Our method </span><span style="text-decoration:underline;text-decoration-thickness:1.9px;text-underline-offset:1.5px;text-decoration-skip-ink:none;">consistently outperforms existing methods</span></b></div>
<div class="ci" style="left:1731px;top:1415.8px;"></div>
<div class="a cj" style="left:1755.7px;top:1406.5px;font-size:22.2px;">Especially fast at escaping from <b class="org" style="text-decoration:underline;text-decoration-thickness:1.9px;text-underline-offset:1.5px;text-decoration-skip-ink:none;">saddle points</b></div>
<svg style="left:0;top:0" width="2500" height="1768" viewBox="0 0 2500 1768" font-family="'Noto Sans CJK JP','DejaVu Sans',sans-serif"><rect x="1739.5" y="1480.1" width="640.3" height="24.4" rx="2.5" fill="#fff" stroke="#ddd" stroke-width="0.9"/><rect x="1744.5" y="1485.9" width="26" height="11.2" fill="#17c8c8"/><text x="1780.2" y="1497.1" font-size="14.2" fill="#444">GD</text><rect x="1825.1" y="1485.9" width="26" height="11.2" fill="#ff7f0e"/><text x="1860.7" y="1497.1" font-size="14.2" fill="#444">HSODM</text><rect x="1934.1" y="1485.9" width="26" height="11.2" fill="#008a00"/><text x="1969.8" y="1497.1" font-size="14.2" fill="#444">RSGD (s=100)</text><rect x="2087.7" y="1485.9" width="26" height="11.2" fill="#6200ee"/><text x="2122.7" y="1497.1" font-size="14.2" fill="#444">RSRN (s=100)</text><rect x="2239.9" y="1485.9" width="26" height="11.2" fill="#ff0044"/><text x="2275.2" y="1497.1" font-size="14.2" fill="#444">RSHTR (s=100)</text><clipPath id="pc0"><rect x="1737.8" y="1538.9" width="174.3" height="136.6"/></clipPath><rect x="1737.8" y="1538.9" width="174.3" height="136.6" fill="#fff" stroke="#999" stroke-width="0.9"/><g clip-path="url(#pc0)"><polyline points="1737.8,1545.3 1738.0,1546.0 1738.2,1546.8 1738.5,1547.7 1738.9,1548.8 1739.3,1550.0 1739.7,1551.2 1740.1,1552.5 1740.6,1553.9 1741.1,1555.3 1741.6,1556.7 1742.2,1558.2 1742.8,1559.6 1743.5,1561.0 1744.2,1562.6 1744.9,1564.2 1745.7,1565.9 1746.5,1567.6 1747.3,1569.4 1748.2,1571.1 1749.1,1572.8 1750.0,1574.5 1751.0,1576.2 1752.0,1577.8 1753.0,1579.3 1754.1,1580.7 1755.2,1582.1 1756.2,1583.5 1757.3,1584.8 1758.4,1586.1 1759.6,1587.3 1760.9,1588.5 1762.2,1589.8 1763.5,1591.0 1765.0,1592.2 1766.6,1593.4 1768.3,1594.6 1770.2,1595.8 1772.1,1597.0 1774.2,1598.2 1776.4,1599.5 1778.6,1600.7 1781.0,1601.9 1783.3,1603.0 1785.8,1604.1 1788.2,1605.2 1790.6,1606.3 1793.1,1607.2 1795.5,1608.2 1797.9,1609.0 1800.2,1609.8 1802.6,1610.5 1804.9,1611.1 1807.3,1611.7 1809.7,1612.3 1812.2,1612.9 1814.8,1613.4 1817.4,1614.0 1820.2,1614.5 1823.0,1615.1 1826.1,1615.6 1829.3,1616.2 1832.7,1616.8 1836.2,1617.4 1839.9,1618.0 1843.6,1618.6 1847.5,1619.2 1851.3,1619.8 1855.2,1620.4 1859.1,1620.9 1862.9,1621.4 1866.6,1621.9 1870.2,1622.4 1873.9,1622.9 1877.8,1623.4 1881.8,1623.8 1885.9,1624.2 1889.9,1624.7 1893.9,1625.1 1897.7,1625.4 1901.3,1625.8 1904.6,1626.1 1907.5,1626.4 1910.0,1626.6 1912.0,1626.8" fill="none" stroke="#5a5aff" stroke-width="1.9" stroke-linejoin="round" /><polyline points="1737.8,1552.1 1737.8,1553.3 1738.0,1554.8 1738.1,1556.5 1738.2,1558.5 1738.4,1560.7 1738.6,1562.9 1738.8,1565.3 1739.0,1567.6 1739.2,1569.9 1739.4,1572.0 1739.6,1574.1 1739.8,1575.9 1740.0,1577.6 1740.2,1579.2 1740.4,1580.7 1740.7,1582.2 1740.9,1583.6 1741.1,1585.0 1741.4,1586.4 1741.6,1587.7 1741.9,1589.0 1742.2,1590.3 1742.5,1591.6 1742.8,1592.9 1743.2,1594.1 1743.4,1595.3 1743.7,1596.4 1744.0,1597.5 1744.2,1598.5 1744.5,1599.6 1744.9,1600.6 1745.3,1601.7 1745.8,1602.8 1746.4,1603.9 1747.1,1605.2 1747.9,1606.5 1748.9,1607.9 1750.1,1609.4 1751.4,1610.9 1752.7,1612.5 1754.2,1614.2 1755.7,1615.9 1757.3,1617.5 1758.8,1619.2 1760.4,1620.8 1762.0,1622.3 1763.5,1623.8 1764.9,1625.1 1766.3,1626.4 1767.6,1627.6 1768.9,1628.7 1770.2,1629.8 1771.5,1630.8 1772.8,1631.8 1774.1,1632.8 1775.5,1633.8 1777.0,1634.7 1778.5,1635.7 1780.1,1636.7 1781.9,1637.7 1783.8,1638.8 1785.9,1639.8 1788.1,1640.9 1790.3,1642.0 1792.7,1643.0 1795.1,1644.1 1797.5,1645.2 1799.9,1646.2 1802.3,1647.2 1804.6,1648.1 1806.9,1649.1 1809.1,1649.9 1811.2,1650.8 1813.2,1651.6 1815.1,1652.3 1817.0,1653.0 1818.9,1653.7 1820.8,1654.4 1822.7,1655.1 1824.6,1655.7 1826.5,1656.3 1828.6,1656.9 1830.7,1657.5 1832.9,1658.1 1835.2,1658.7 1837.6,1659.3 1840.1,1659.8 1842.7,1660.4 1845.3,1660.9 1847.9,1661.5 1850.6,1662.0 1853.3,1662.5 1855.9,1662.9 1858.5,1663.4 1861.0,1663.8 1863.4,1664.2 1865.9,1664.6 1868.2,1665.0 1870.6,1665.3 1873.0,1665.6 1875.3,1665.9 1877.6,1666.2 1879.9,1666.5 1882.1,1666.7 1884.3,1666.9 1886.5,1667.2 1888.6,1667.4 1890.6,1667.6 1892.7,1667.8 1894.8,1668.0 1896.9,1668.2 1899.0,1668.4 1901.0,1668.5 1903.0,1668.7 1904.9,1668.8 1906.7,1668.9 1908.3,1669.0 1909.8,1669.1 1911.0,1669.2 1912.0,1669.3" fill="none" stroke="#2a962a" stroke-width="1.9" stroke-linejoin="round" /><polyline points="1737.8,1553.8 1738.1,1555.2 1738.5,1557.0 1738.9,1559.0 1739.5,1561.4 1740.0,1563.9 1740.6,1566.5 1741.3,1569.3 1741.9,1572.1 1742.6,1574.9 1743.2,1577.6 1743.9,1580.2 1744.5,1582.7 1745.2,1585.0 1745.8,1587.3 1746.5,1589.6 1747.2,1591.9 1747.9,1594.1 1748.6,1596.4 1749.3,1598.6 1750.0,1600.9 1750.8,1603.1 1751.5,1605.4 1752.3,1607.6 1753.0,1609.9 1753.8,1612.2 1754.6,1614.5 1755.4,1616.9 1756.2,1619.3 1757.1,1621.7 1757.9,1624.1 1758.8,1626.4 1759.6,1628.7 1760.5,1631.0 1761.4,1633.1 1762.3,1635.1 1763.2,1637.0 1764.2,1638.8 1765.1,1640.6 1766.0,1642.2 1767.0,1643.8 1768.0,1645.3 1769.0,1646.8 1770.0,1648.1 1771.0,1649.4 1772.0,1650.7 1773.0,1651.9 1774.1,1653.0 1775.1,1654.0 1776.2,1655.0 1777.2,1655.9 1778.2,1656.6 1779.3,1657.3 1780.3,1658.0 1781.4,1658.6 1782.5,1659.1 1783.6,1659.6 1784.8,1660.1 1786.0,1660.6 1787.3,1661.0 1788.7,1661.5 1790.1,1662.0 1791.5,1662.4 1792.9,1662.8 1794.2,1663.2 1795.7,1663.5 1797.2,1663.9 1798.8,1664.2 1800.5,1664.5 1802.4,1664.8 1804.4,1665.1 1806.7,1665.3 1809.1,1665.6 1811.7,1665.8 1814.5,1666.0 1817.4,1666.2 1820.4,1666.4 1823.6,1666.6 1826.9,1666.7 1830.3,1666.9 1833.9,1667.0 1837.7,1667.2 1841.6,1667.3 1845.6,1667.5 1849.9,1667.6 1854.5,1667.8 1859.7,1667.9 1865.4,1668.1 1871.3,1668.3 1877.4,1668.4 1883.5,1668.6 1889.4,1668.7 1895.1,1668.9 1900.4,1669.0 1905.0,1669.1 1909.0,1669.2 1912.0,1669.3" fill="none" stroke="#f25560" stroke-width="1.9" stroke-linejoin="round" /></g><clipPath id="pc1"><rect x="1972.2" y="1538.9" width="175.3" height="136.6"/></clipPath><rect x="1972.2" y="1538.9" width="175.3" height="136.6" fill="#fff" stroke="#999" stroke-width="0.9"/><g clip-path="url(#pc1)"><polyline points="1972.8,1545.3 1974.4,1545.6 1976.3,1546.1 1978.5,1546.5 1980.9,1547.1 1983.6,1547.7 1986.5,1548.3 1989.6,1548.9 1992.7,1549.6 1996.0,1550.2 1999.4,1550.9 2002.8,1551.5 2006.1,1552.1 2009.4,1552.7 2012.7,1553.3 2015.9,1553.8 2019.2,1554.4 2022.6,1555.0 2026.1,1555.6 2029.9,1556.2 2033.9,1556.8 2038.2,1557.3 2042.9,1557.9 2048.1,1558.4 2053.7,1558.9 2060.2,1559.4 2067.7,1559.9 2076.1,1560.4 2085.0,1560.9 2094.2,1561.4 2103.5,1561.9 2112.7,1562.3 2121.4,1562.7 2129.5,1563.1 2136.7,1563.5 2142.8,1563.8 2147.5,1564.0" fill="none" stroke="#33cccc" stroke-width="1.9" stroke-linejoin="round" /><polyline points="1972.8,1545.3 1973.4,1545.6 1974.1,1545.8 1974.9,1546.2 1975.8,1546.6 1976.8,1547.0 1977.9,1547.4 1979.1,1547.9 1980.3,1548.4 1981.6,1548.9 1982.9,1549.4 1984.3,1549.9 1985.7,1550.4 1987.2,1550.9 1988.6,1551.5 1990.1,1552.1 1991.5,1552.7 1993.1,1553.3 1994.7,1553.9 1996.5,1554.5 1998.4,1555.1 2000.4,1555.7 2002.7,1556.2 2005.1,1556.7 2007.8,1557.2 2010.7,1557.6 2013.5,1558.0 2016.5,1558.3 2019.6,1558.6 2022.8,1558.9 2026.3,1559.2 2030.0,1559.4 2034.0,1559.7 2038.3,1560.0 2043.0,1560.3 2048.1,1560.6 2053.7,1560.9 2060.1,1561.4 2067.6,1561.8 2076.0,1562.3 2084.9,1562.8 2094.1,1563.4 2103.4,1563.9 2112.6,1564.4 2121.4,1564.9 2129.5,1565.4 2136.7,1565.8 2142.8,1566.1 2147.5,1566.4" fill="none" stroke="#ff9d3c" stroke-width="1.9" stroke-linejoin="round" /><polyline points="1972.8,1546.0 1974.9,1555.5 1977.6,1568.4 1985.7,1571.8 2053.7,1574.5 2147.5,1577.9" fill="none" stroke="#5a5aff" stroke-width="1.9" stroke-linejoin="round" /><polyline points="1972.8,1546.0 1973.2,1571.1 1985.7,1573.2 2053.7,1577.6 2147.5,1582.7" fill="none" stroke="#2a962a" stroke-width="1.9" stroke-linejoin="round" /><polyline points="1972.8,1546.0 1972.8,1547.3 1972.8,1549.0 1972.8,1551.0 1972.7,1553.2 1972.7,1555.6 1972.6,1558.2 1972.6,1560.8 1972.6,1563.4 1972.7,1565.9 1972.8,1568.3 1973.0,1570.5 1973.2,1572.5 1973.4,1574.2 1973.7,1575.8 1974.1,1577.3 1974.4,1578.7 1974.8,1580.1 1975.2,1581.4 1975.7,1582.6 1976.2,1583.9 1976.8,1585.2 1977.5,1586.6 1978.2,1588.0 1979.0,1589.5 1979.8,1591.1 1980.7,1592.7 1981.6,1594.4 1982.7,1596.1 1983.7,1597.9 1984.8,1599.7 1986.0,1601.4 1987.2,1603.2 1988.5,1604.9 1989.8,1606.6 1991.1,1608.3 1992.5,1609.9 1994.0,1611.4 1995.5,1612.9 1997.0,1614.4 1998.6,1615.8 2000.2,1617.3 2001.9,1618.7 2003.6,1620.1 2005.4,1621.4 2007.2,1622.8 2009.1,1624.2 2011.0,1625.5 2012.9,1626.8 2014.9,1628.2 2017.0,1629.5 2019.2,1630.9 2021.4,1632.2 2023.6,1633.5 2025.9,1634.9 2028.2,1636.1 2030.5,1637.4 2032.9,1638.6 2035.3,1639.8 2037.7,1641.0 2040.1,1642.1 2042.5,1643.2 2045.0,1644.3 2047.4,1645.3 2049.9,1646.3 2052.4,1647.2 2055.0,1648.2 2057.5,1649.1 2060.1,1650.0 2062.7,1650.9 2065.3,1651.7 2068.0,1652.5 2070.7,1653.3 2073.4,1654.1 2076.0,1654.9 2078.7,1655.6 2081.4,1656.3 2084.1,1657.0 2086.9,1657.6 2089.7,1658.3 2092.5,1658.9 2095.5,1659.6 2098.4,1660.2 2101.5,1660.8 2104.7,1661.5 2108.0,1662.2 2111.8,1662.9 2115.7,1663.7 2119.8,1664.4 2124.0,1665.2 2128.2,1665.9 2132.2,1666.6 2136.0,1667.3 2139.6,1667.9 2142.7,1668.5 2145.4,1668.9 2147.5,1669.3" fill="none" stroke="#f25560" stroke-width="1.9" stroke-linejoin="round" /></g><clipPath id="pc2"><rect x="2219.5" y="1538.9" width="173.9" height="136.6"/></clipPath><rect x="2219.5" y="1538.9" width="173.9" height="136.6" fill="#fff" stroke="#999" stroke-width="0.9"/><g clip-path="url(#pc2)"><polygon points="2219.5,1548.0 2246.7,1545.3 2248.0,1551.4 2250.7,1554.8 2257.5,1562.3 2261.6,1563.3 2262.6,1570.1 2267.7,1574.5 2277.9,1577.2 2308.5,1580.6 2393.4,1581.7 2393.4,1584.4 2308.5,1583.4 2277.9,1580.0 2267.7,1577.2 2262.6,1575.5 2261.6,1568.8 2257.5,1567.7 2250.7,1560.3 2248.0,1556.9 2246.7,1550.7 2219.5,1550.7" fill="#2a962a" opacity="0.28"/><polyline points="2219.5,1549.4 2246.7,1549.4 2248.0,1555.5 2250.7,1558.9 2257.5,1566.4 2261.6,1567.4 2262.6,1574.2 2267.7,1575.9 2277.9,1578.6 2308.5,1582.0 2393.4,1583.0" fill="none" stroke="#2a962a" stroke-width="1.9" stroke-linejoin="round" /><polygon points="2219.5,1546.3 2223.6,1547.0 2224.9,1555.8 2230.3,1567.7 2240.5,1579.6 2257.5,1589.8 2284.7,1595.9 2325.5,1600.7 2393.4,1603.1 2393.4,1609.2 2325.5,1606.8 2284.7,1602.0 2257.5,1595.9 2240.5,1585.7 2230.3,1573.8 2224.9,1562.0 2223.6,1553.1 2219.5,1552.4" fill="#5a5aff" opacity="0.28"/><polyline points="2219.5,1549.4 2219.7,1549.4 2220.0,1549.4 2220.3,1549.3 2220.6,1549.3 2221.0,1549.2 2221.4,1549.2 2221.8,1549.2 2222.2,1549.2 2222.6,1549.3 2223.0,1549.5 2223.3,1549.7 2223.6,1550.1 2223.7,1550.5 2223.9,1551.0 2224.0,1551.6 2224.1,1552.3 2224.1,1553.0 2224.1,1553.8 2224.2,1554.6 2224.3,1555.4 2224.3,1556.3 2224.5,1557.2 2224.7,1558.0 2224.9,1558.9 2225.2,1559.8 2225.5,1560.7 2225.9,1561.7 2226.2,1562.6 2226.6,1563.6 2227.1,1564.7 2227.5,1565.7 2228.0,1566.7 2228.6,1567.7 2229.1,1568.8 2229.7,1569.8 2230.3,1570.8 2231.0,1571.8 2231.7,1572.8 2232.4,1573.8 2233.1,1574.8 2233.9,1575.8 2234.7,1576.8 2235.6,1577.8 2236.5,1578.8 2237.4,1579.8 2238.4,1580.8 2239.4,1581.8 2240.5,1582.7 2241.7,1583.6 2242.9,1584.5 2244.1,1585.4 2245.3,1586.4 2246.6,1587.3 2248.0,1588.1 2249.4,1589.0 2250.9,1589.8 2252.4,1590.7 2254.0,1591.4 2255.7,1592.2 2257.5,1592.9 2259.4,1593.5 2261.3,1594.1 2263.3,1594.7 2265.3,1595.3 2267.4,1595.8 2269.6,1596.3 2271.9,1596.7 2274.3,1597.2 2276.7,1597.7 2279.3,1598.1 2281.9,1598.5 2284.7,1599.0 2287.5,1599.4 2290.4,1599.9 2293.3,1600.3 2296.3,1600.8 2299.3,1601.2 2302.5,1601.6 2305.9,1602.0 2309.4,1602.4 2313.0,1602.8 2316.9,1603.1 2321.1,1603.4 2325.5,1603.7 2330.4,1604.0 2336.0,1604.3 2342.1,1604.6 2348.6,1604.8 2355.3,1605.0 2362.0,1605.2 2368.5,1605.4 2374.8,1605.6 2380.6,1605.8 2385.7,1605.9 2390.0,1606.0 2393.4,1606.1" fill="none" stroke="#5a5aff" stroke-width="1.9" stroke-linejoin="round" /><polygon points="2219.5,1550.7 2223.6,1560.9 2237.1,1569.4 2257.5,1576.2 2271.1,1583.0 2277.9,1591.5 2284.7,1606.8 2289.8,1622.1 2293.2,1637.4 2298.3,1649.3 2308.5,1659.5 2325.5,1666.3 2345.9,1668.3 2393.4,1668.3 2393.4,1674.4 2345.9,1674.4 2325.5,1672.4 2308.5,1665.6 2298.3,1655.4 2293.2,1643.5 2289.8,1628.2 2284.7,1612.9 2277.9,1597.6 2271.1,1589.1 2257.5,1582.3 2237.1,1575.5 2223.6,1567.1 2219.5,1556.9" fill="#f25560" opacity="0.28"/><polyline points="2219.5,1553.8 2219.6,1554.3 2219.8,1554.9 2220.0,1555.7 2220.2,1556.5 2220.4,1557.4 2220.7,1558.4 2221.0,1559.4 2221.3,1560.3 2221.8,1561.3 2222.3,1562.3 2222.9,1563.2 2223.6,1564.0 2224.3,1564.8 2225.2,1565.5 2226.1,1566.3 2227.1,1567.0 2228.2,1567.7 2229.3,1568.5 2230.5,1569.2 2231.8,1569.8 2233.0,1570.5 2234.4,1571.2 2235.7,1571.8 2237.1,1572.5 2238.6,1573.1 2240.2,1573.7 2241.9,1574.3 2243.7,1574.9 2245.5,1575.4 2247.3,1576.0 2249.2,1576.5 2251.0,1577.1 2252.7,1577.6 2254.4,1578.2 2256.0,1578.7 2257.5,1579.3 2258.9,1579.8 2260.3,1580.4 2261.6,1580.9 2262.8,1581.5 2264.0,1582.0 2265.2,1582.6 2266.3,1583.1 2267.3,1583.7 2268.4,1584.3 2269.3,1584.8 2270.2,1585.5 2271.1,1586.1 2271.9,1586.7 2272.6,1587.3 2273.3,1587.9 2273.9,1588.5 2274.4,1589.2 2274.9,1589.8 2275.4,1590.5 2275.9,1591.2 2276.4,1591.9 2276.9,1592.7 2277.4,1593.6 2277.9,1594.6 2278.5,1595.6 2279.1,1596.7 2279.6,1597.9 2280.2,1599.2 2280.8,1600.5 2281.4,1601.8 2282.0,1603.1 2282.6,1604.5 2283.1,1605.9 2283.7,1607.2 2284.2,1608.6 2284.7,1609.9 2285.2,1611.1 2285.7,1612.4 2286.1,1613.7 2286.6,1615.0 2287.0,1616.2 2287.5,1617.5 2287.9,1618.8 2288.3,1620.1 2288.7,1621.3 2289.1,1622.6 2289.4,1623.9 2289.8,1625.1 2290.1,1626.4 2290.4,1627.7 2290.7,1629.0 2291.0,1630.4 2291.2,1631.7 2291.5,1633.0 2291.7,1634.3 2292.0,1635.6 2292.3,1636.9 2292.5,1638.1 2292.9,1639.3 2293.2,1640.4 2293.5,1641.6 2293.9,1642.6 2294.2,1643.7 2294.6,1644.7 2294.9,1645.7 2295.3,1646.7 2295.7,1647.7 2296.2,1648.6 2296.6,1649.6 2297.1,1650.5 2297.7,1651.4 2298.3,1652.3 2298.9,1653.2 2299.6,1654.2 2300.3,1655.1 2301.1,1656.0 2301.8,1656.9 2302.6,1657.7 2303.5,1658.6 2304.4,1659.4 2305.3,1660.2 2306.3,1661.0 2307.4,1661.8 2308.5,1662.5 2309.6,1663.2 2310.9,1663.9 2312.2,1664.6 2313.5,1665.2 2314.9,1665.8 2316.3,1666.4 2317.8,1667.0 2319.3,1667.5 2320.8,1668.0 2322.4,1668.5 2323.9,1668.9 2325.5,1669.3 2327.0,1669.7 2328.4,1669.9 2329.7,1670.2 2331.0,1670.4 2332.3,1670.6 2333.7,1670.8 2335.3,1670.9 2336.9,1671.0 2338.8,1671.1 2340.8,1671.2 2343.2,1671.3 2345.9,1671.3 2349.0,1671.4 2352.8,1671.5 2356.9,1671.5 2361.5,1671.5 2366.2,1671.5 2370.9,1671.5 2375.6,1671.5 2380.1,1671.4 2384.2,1671.4 2387.9,1671.4 2391.0,1671.4 2393.4,1671.3" fill="none" stroke="#f25560" stroke-width="1.9" stroke-linejoin="round" /></g><text x="1737.8" y="1686.0" font-size="8.6" text-anchor="middle" fill="#333" >0</text><text x="1781.3" y="1686.0" font-size="8.6" text-anchor="middle" fill="#333" >150</text><text x="1824.9" y="1686.0" font-size="8.6" text-anchor="middle" fill="#333" >300</text><text x="1868.5" y="1686.0" font-size="8.6" text-anchor="middle" fill="#333" >450</text><text x="1912.0" y="1686.0" font-size="8.6" text-anchor="middle" fill="#333" >600</text><text x="1824.9" y="1698.5" font-size="12.4" text-anchor="middle" fill="#222" >time (s)</text><text transform="translate(1709.6,1607.5) rotate(-90)" font-size="12.4" text-anchor="middle" fill="#222">function value</text><text x="1972.2" y="1686.0" font-size="8.6" text-anchor="middle" fill="#333" >0</text><text x="2016.0" y="1686.0" font-size="8.6" text-anchor="middle" fill="#333" >150</text><text x="2059.8" y="1686.0" font-size="8.6" text-anchor="middle" fill="#333" >300</text><text x="2103.6" y="1686.0" font-size="8.6" text-anchor="middle" fill="#333" >450</text><text x="2147.5" y="1686.0" font-size="8.6" text-anchor="middle" fill="#333" >600</text><text x="2059.8" y="1698.5" font-size="12.4" text-anchor="middle" fill="#222" >time (s)</text><text transform="translate(1951.8,1607.5) rotate(-90)" font-size="12.4" text-anchor="middle" fill="#222">function value</text><text x="2219.5" y="1686.0" font-size="8.6" text-anchor="middle" fill="#333" >0</text><text x="2263.0" y="1686.0" font-size="8.6" text-anchor="middle" fill="#333" >4000</text><text x="2306.4" y="1686.0" font-size="8.6" text-anchor="middle" fill="#333" >8000</text><text x="2349.9" y="1686.0" font-size="8.6" text-anchor="middle" fill="#333" >12000</text><text x="2393.4" y="1686.0" font-size="8.6" text-anchor="middle" fill="#333" >16000</text><text x="2306.4" y="1698.5" font-size="12.4" text-anchor="middle" fill="#222" >time (s)</text><text transform="translate(2198.1,1607.5) rotate(-90)" font-size="12.4" text-anchor="middle" fill="#222">function value</text><text x="1734.4" y="1552.5" font-size="8.6" text-anchor="end" fill="#333" >2400</text><text x="1734.4" y="1593.3" font-size="8.6" text-anchor="end" fill="#333" >1600</text><text x="1734.4" y="1634.4" font-size="8.6" text-anchor="end" fill="#333" >800</text><text x="1734.4" y="1676.1" font-size="8.6" text-anchor="end" fill="#333" >0</text><text x="1968.8" y="1558.6" font-size="8.6" text-anchor="end" fill="#333" >2.4</text><text x="1968.8" y="1602.4" font-size="8.6" text-anchor="end" fill="#333" >1.6</text><text x="1968.8" y="1646.6" font-size="8.6" text-anchor="end" fill="#333" >0.8</text><text x="2216.1" y="1548.4" font-size="8.6" text-anchor="end" fill="#333" >2.4</text><text x="2216.1" y="1591.6" font-size="8.6" text-anchor="end" fill="#333" >1.6</text><text x="2216.1" y="1635.4" font-size="8.6" text-anchor="end" fill="#333" >0.8</text><text x="2216.1" y="1678.9" font-size="8.6" text-anchor="end" fill="#333" >0.0</text><path d="M1737.8 1675.4v2.2M1781.3 1675.4v2.2M1824.9 1675.4v2.2M1868.5 1675.4v2.2M1912.0 1675.4v2.2M1972.2 1675.4v2.2M2016.0 1675.4v2.2M2059.8 1675.4v2.2M2103.6 1675.4v2.2M2147.5 1675.4v2.2M2219.5 1675.4v2.2M2263.0 1675.4v2.2M2306.4 1675.4v2.2M2349.9 1675.4v2.2M2393.4 1675.4v2.2M1737.8 1549.4h-2.2M1737.8 1590.2h-2.2M1737.8 1631.3h-2.2M1737.8 1673.0h-2.2M1972.2 1555.5h-2.2M1972.2 1599.3h-2.2M1972.2 1643.5h-2.2M2219.5 1545.3h-2.2M2219.5 1588.5h-2.2M2219.5 1632.3h-2.2M2219.5 1675.8h-2.2" stroke="#555" stroke-width="0.7"/><text x="1823.9" y="1525.9" font-size="17.6" text-anchor="middle" fill="#000" >matrix factorization</text><text x="2059.1" y="1525.9" font-size="17.6" text-anchor="middle" fill="#000" >softmax regression</text><text x="2307.3" y="1525.9" font-size="17.6" text-anchor="middle" fill="#000" >deep neural network</text><circle cx="1979.0" cy="1577.6" r="20.4" fill="#fbc764" fill-opacity="0.5" stroke="#f59a00" stroke-width="0.9"/><circle cx="2278.9" cy="1599.7" r="20.4" fill="#fbc764" fill-opacity="0.5" stroke="#f59a00" stroke-width="0.9"/><line x1="2135.2" y1="1431.0" x2="2002.6" y2="1554.5" stroke="#fbb829" stroke-width="1.6" stroke-dasharray="5.5 3.5"/><polygon points="1996.0,1560.6 2000.1,1551.8 2005.0,1557.1" fill="#fbb829"/><line x1="2164.1" y1="1431.0" x2="2256.7" y2="1574.4" stroke="#fbb829" stroke-width="1.6" stroke-dasharray="5.5 3.5"/><polygon points="2261.6,1582.0 2253.7,1576.4 2259.7,1572.5" fill="#fbb829"/></svg>
</body>
</html>
